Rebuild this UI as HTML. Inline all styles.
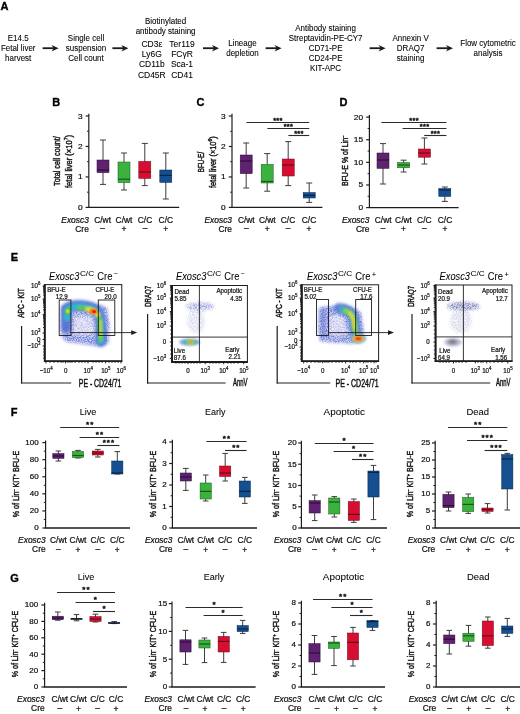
<!DOCTYPE html><html><head><meta charset="utf-8"><style>html,body{margin:0;padding:0;background:#fff;}svg{display:block;font-family:"Liberation Sans", sans-serif;}</style></head><body>
<svg width="520" height="714" viewBox="0 0 520 714">
<defs><filter id="b1" x="-30%" y="-30%" width="160%" height="160%"><feGaussianBlur stdDeviation="1"/></filter><filter id="b15" x="-30%" y="-30%" width="160%" height="160%"><feGaussianBlur stdDeviation="1.5"/></filter><filter id="b2" x="-30%" y="-30%" width="160%" height="160%"><feGaussianBlur stdDeviation="2"/></filter><filter id="b3" x="-30%" y="-30%" width="160%" height="160%"><feGaussianBlur stdDeviation="3"/></filter><filter id="b07" x="-30%" y="-30%" width="160%" height="160%"><feGaussianBlur stdDeviation="0.7"/></filter><filter id="sp" x="-30%" y="-30%" width="160%" height="160%"><feGaussianBlur in="SourceGraphic" stdDeviation="1.5" result="bl"/><feTurbulence type="fractalNoise" baseFrequency="0.8" numOctaves="2" seed="5" result="n"/><feColorMatrix in="n" type="matrix" values="0 0 0 0 0 0 0 0 0 0 0 0 0 0 0 0 0 0 3.2 -1.2" result="na"/><feComposite in="bl" in2="na" operator="in"/></filter></defs>
<rect width="520" height="714" fill="#fff"/>
<filter id="gb" x="0" y="0" width="520" height="714" filterUnits="userSpaceOnUse"><feGaussianBlur stdDeviation="0.4"/></filter>
<g filter="url(#gb)">
<text x="0.60" y="10.30" font-size="11.0" stroke="#000" stroke-width="0.35" font-weight="bold" fill="#000">A</text>
<text x="52.20" y="105.60" font-size="11.0" stroke="#000" stroke-width="0.35" font-weight="bold" fill="#000">B</text>
<text x="196.60" y="105.60" font-size="11.0" stroke="#000" stroke-width="0.35" font-weight="bold" fill="#000">C</text>
<text x="339.40" y="105.60" font-size="11.0" stroke="#000" stroke-width="0.35" font-weight="bold" fill="#000">D</text>
<text x="10.80" y="261.20" font-size="11.0" stroke="#000" stroke-width="0.35" font-weight="bold" fill="#000">E</text>
<text x="10.80" y="416.20" font-size="11.0" stroke="#000" stroke-width="0.35" font-weight="bold" fill="#000">F</text>
<text x="10.20" y="581.80" font-size="11.0" stroke="#000" stroke-width="0.35" font-weight="bold" fill="#000">G</text>
<text x="0" y="0" transform="translate(18.20,41.20) scale(1,1.1)" font-size="8.0" stroke="#1e1e1e" stroke-width="0.08" text-anchor="middle">E14.5</text>
<text x="0" y="0" transform="translate(18.20,51.20) scale(1,1.1)" font-size="8.0" stroke="#1e1e1e" stroke-width="0.08" text-anchor="middle">Fetal liver</text>
<text x="0" y="0" transform="translate(18.20,61.20) scale(1,1.1)" font-size="8.0" stroke="#1e1e1e" stroke-width="0.08" text-anchor="middle">harvest</text>
<text x="0" y="0" transform="translate(86.00,41.20) scale(1,1.1)" font-size="8.0" stroke="#1e1e1e" stroke-width="0.08" text-anchor="middle">Single cell</text>
<text x="0" y="0" transform="translate(86.00,51.20) scale(1,1.1)" font-size="8.0" stroke="#1e1e1e" stroke-width="0.08" text-anchor="middle">suspension</text>
<text x="0" y="0" transform="translate(86.00,61.20) scale(1,1.1)" font-size="8.0" stroke="#1e1e1e" stroke-width="0.08" text-anchor="middle">Cell count</text>
<text x="0" y="0" transform="translate(165.60,23.80) scale(1,1.1)" font-size="8.0" stroke="#1e1e1e" stroke-width="0.08" text-anchor="middle">Biotinylated</text>
<text x="0" y="0" transform="translate(165.60,34.00) scale(1,1.1)" font-size="8.0" stroke="#1e1e1e" stroke-width="0.08" text-anchor="middle">antibody staining</text>
<text x="0" y="0" transform="translate(151.80,47.20) scale(1,1.1)" font-size="8.5" stroke="#1e1e1e" stroke-width="0.08" text-anchor="middle">CD3ε</text>
<text x="0" y="0" transform="translate(151.80,57.40) scale(1,1.1)" font-size="8.5" stroke="#1e1e1e" stroke-width="0.08" text-anchor="middle">Ly6G</text>
<text x="0" y="0" transform="translate(151.80,67.40) scale(1,1.1)" font-size="8.5" stroke="#1e1e1e" stroke-width="0.08" text-anchor="middle">CD11b</text>
<text x="0" y="0" transform="translate(151.80,77.60) scale(1,1.1)" font-size="8.5" stroke="#1e1e1e" stroke-width="0.08" text-anchor="middle">CD45R</text>
<text x="0" y="0" transform="translate(182.00,47.20) scale(1,1.1)" font-size="8.5" stroke="#1e1e1e" stroke-width="0.08" text-anchor="middle">Ter119</text>
<text x="0" y="0" transform="translate(182.00,57.40) scale(1,1.1)" font-size="8.5" stroke="#1e1e1e" stroke-width="0.08" text-anchor="middle">FCγR</text>
<text x="0" y="0" transform="translate(182.00,67.40) scale(1,1.1)" font-size="8.5" stroke="#1e1e1e" stroke-width="0.08" text-anchor="middle">Sca-1</text>
<text x="0" y="0" transform="translate(182.00,77.60) scale(1,1.1)" font-size="8.5" stroke="#1e1e1e" stroke-width="0.08" text-anchor="middle">CD41</text>
<text x="0" y="0" transform="translate(242.40,45.80) scale(1,1.1)" font-size="8.0" stroke="#1e1e1e" stroke-width="0.08" text-anchor="middle">Lineage</text>
<text x="0" y="0" transform="translate(242.40,55.80) scale(1,1.1)" font-size="8.0" stroke="#1e1e1e" stroke-width="0.08" text-anchor="middle">depletion</text>
<text x="0" y="0" transform="translate(325.60,30.60) scale(1,1.1)" font-size="8.0" stroke="#1e1e1e" stroke-width="0.08" text-anchor="middle">Antibody staining</text>
<text x="0" y="0" transform="translate(325.60,40.80) scale(1,1.1)" font-size="8.0" stroke="#1e1e1e" stroke-width="0.08" text-anchor="middle">Streptavidin-PE-CY7</text>
<text x="0" y="0" transform="translate(325.60,50.80) scale(1,1.1)" font-size="8.0" stroke="#1e1e1e" stroke-width="0.08" text-anchor="middle">CD71-PE</text>
<text x="0" y="0" transform="translate(325.60,60.80) scale(1,1.1)" font-size="8.0" stroke="#1e1e1e" stroke-width="0.08" text-anchor="middle">CD24-PE</text>
<text x="0" y="0" transform="translate(325.60,70.80) scale(1,1.1)" font-size="8.0" stroke="#1e1e1e" stroke-width="0.08" text-anchor="middle">KIT-APC</text>
<text x="0" y="0" transform="translate(410.60,40.80) scale(1,1.1)" font-size="8.0" stroke="#1e1e1e" stroke-width="0.08" text-anchor="middle">Annexin V</text>
<text x="0" y="0" transform="translate(410.60,50.80) scale(1,1.1)" font-size="8.0" stroke="#1e1e1e" stroke-width="0.08" text-anchor="middle">DRAQ7</text>
<text x="0" y="0" transform="translate(410.60,60.80) scale(1,1.1)" font-size="8.0" stroke="#1e1e1e" stroke-width="0.08" text-anchor="middle">staining</text>
<text x="0" y="0" transform="translate(488.00,45.80) scale(1,1.1)" font-size="8.0" stroke="#1e1e1e" stroke-width="0.08" text-anchor="middle">Flow cytometric</text>
<text x="0" y="0" transform="translate(488.00,55.80) scale(1,1.1)" font-size="8.0" stroke="#1e1e1e" stroke-width="0.08" text-anchor="middle">analysis</text>
<line x1="42.60" y1="48.20" x2="54.10" y2="48.20" stroke="#1e1e1e" stroke-width="1.8"/>
<path d="M58.60,48.20 L51.60,44.90 L53.60,48.20 L51.60,51.50 Z" fill="#1e1e1e"/>
<line x1="112.40" y1="48.20" x2="123.90" y2="48.20" stroke="#1e1e1e" stroke-width="1.8"/>
<path d="M128.40,48.20 L121.40,44.90 L123.40,48.20 L121.40,51.50 Z" fill="#1e1e1e"/>
<line x1="203.00" y1="48.20" x2="214.50" y2="48.20" stroke="#1e1e1e" stroke-width="1.8"/>
<path d="M219.00,48.20 L212.00,44.90 L214.00,48.20 L212.00,51.50 Z" fill="#1e1e1e"/>
<line x1="265.60" y1="48.20" x2="277.10" y2="48.20" stroke="#1e1e1e" stroke-width="1.8"/>
<path d="M281.60,48.20 L274.60,44.90 L276.60,48.20 L274.60,51.50 Z" fill="#1e1e1e"/>
<line x1="369.60" y1="48.20" x2="381.10" y2="48.20" stroke="#1e1e1e" stroke-width="1.8"/>
<path d="M385.60,48.20 L378.60,44.90 L380.60,48.20 L378.60,51.50 Z" fill="#1e1e1e"/>
<line x1="436.60" y1="48.20" x2="448.50" y2="48.20" stroke="#1e1e1e" stroke-width="1.8"/>
<path d="M453.00,48.20 L446.00,44.90 L448.00,48.20 L446.00,51.50 Z" fill="#1e1e1e"/>
<line x1="88.80" y1="113.79" x2="88.80" y2="207.40" stroke="#1e1e1e" stroke-width="1.2"/>
<line x1="85.60" y1="207.40" x2="88.80" y2="207.40" stroke="#1e1e1e" stroke-width="1.2"/>
<text x="0" y="0" transform="translate(82.80,209.91) scale(1,0.83)" font-size="8.4" stroke="#1e1e1e" stroke-width="0.22" text-anchor="end">0</text>
<line x1="85.60" y1="176.93" x2="88.80" y2="176.93" stroke="#1e1e1e" stroke-width="1.2"/>
<text x="0" y="0" transform="translate(82.80,179.44) scale(1,0.83)" font-size="8.4" stroke="#1e1e1e" stroke-width="0.22" text-anchor="end">1</text>
<line x1="85.60" y1="146.46" x2="88.80" y2="146.46" stroke="#1e1e1e" stroke-width="1.2"/>
<text x="0" y="0" transform="translate(82.80,148.97) scale(1,0.83)" font-size="8.4" stroke="#1e1e1e" stroke-width="0.22" text-anchor="end">2</text>
<line x1="85.60" y1="115.99" x2="88.80" y2="115.99" stroke="#1e1e1e" stroke-width="1.2"/>
<text x="0" y="0" transform="translate(82.80,118.50) scale(1,0.83)" font-size="8.4" stroke="#1e1e1e" stroke-width="0.22" text-anchor="end">3</text>
<line x1="87.00" y1="192.17" x2="88.80" y2="192.17" stroke="#1e1e1e" stroke-width="1.0"/>
<line x1="87.00" y1="161.69" x2="88.80" y2="161.69" stroke="#1e1e1e" stroke-width="1.0"/>
<line x1="87.00" y1="131.23" x2="88.80" y2="131.23" stroke="#1e1e1e" stroke-width="1.0"/>
<line x1="88.20" y1="207.40" x2="179.20" y2="207.40" stroke="#1e1e1e" stroke-width="1.3"/>
<line x1="103.00" y1="140.00" x2="103.00" y2="184.40" stroke="#3c3c3c" stroke-width="1.0"/>
<line x1="100.00" y1="140.00" x2="106.00" y2="140.00" stroke="#3c3c3c" stroke-width="1.0"/>
<line x1="100.00" y1="184.40" x2="106.00" y2="184.40" stroke="#3c3c3c" stroke-width="1.0"/>
<rect x="97.00" y="160.00" width="12.00" height="12.60" fill="#5e2170" stroke="#2e0b3a" stroke-width="0.5"/>
<line x1="97.00" y1="170.00" x2="109.00" y2="170.00" stroke="#2e0b3a" stroke-width="1.2"/>
<line x1="124.00" y1="153.00" x2="124.00" y2="190.00" stroke="#3c3c3c" stroke-width="1.0"/>
<line x1="121.00" y1="153.00" x2="127.00" y2="153.00" stroke="#3c3c3c" stroke-width="1.0"/>
<line x1="121.00" y1="190.00" x2="127.00" y2="190.00" stroke="#3c3c3c" stroke-width="1.0"/>
<rect x="118.00" y="162.00" width="12.00" height="20.60" fill="#3bb23e" stroke="#145a18" stroke-width="0.5"/>
<line x1="118.00" y1="179.20" x2="130.00" y2="179.20" stroke="#145a18" stroke-width="1.2"/>
<line x1="144.80" y1="143.40" x2="144.80" y2="185.60" stroke="#3c3c3c" stroke-width="1.0"/>
<line x1="141.80" y1="143.40" x2="147.80" y2="143.40" stroke="#3c3c3c" stroke-width="1.0"/>
<line x1="141.80" y1="185.60" x2="147.80" y2="185.60" stroke="#3c3c3c" stroke-width="1.0"/>
<rect x="138.80" y="161.40" width="12.00" height="17.00" fill="#d80f30" stroke="#6a0616" stroke-width="0.5"/>
<line x1="138.80" y1="172.00" x2="150.80" y2="172.00" stroke="#6a0616" stroke-width="1.2"/>
<line x1="165.80" y1="153.00" x2="165.80" y2="199.00" stroke="#3c3c3c" stroke-width="1.0"/>
<line x1="162.80" y1="153.00" x2="168.80" y2="153.00" stroke="#3c3c3c" stroke-width="1.0"/>
<line x1="162.80" y1="199.00" x2="168.80" y2="199.00" stroke="#3c3c3c" stroke-width="1.0"/>
<rect x="159.80" y="170.00" width="12.00" height="12.40" fill="#134f8f" stroke="#06264a" stroke-width="0.5"/>
<line x1="159.80" y1="175.40" x2="171.80" y2="175.40" stroke="#06264a" stroke-width="1.2"/>
<text x="0" y="0" font-size="9.4" text-anchor="middle" transform="translate(59.60,161.10) rotate(-90)" stroke="#1e1e1e" stroke-width="0.45" textLength="49.6" lengthAdjust="spacingAndGlyphs">Total cell count/</text>
<text x="0" y="0" font-size="9.4" text-anchor="middle" transform="translate(71.60,161.50) rotate(-90)" stroke="#1e1e1e" stroke-width="0.45" textLength="53" lengthAdjust="spacingAndGlyphs">fetal liver (×10<tspan font-size="6.2" dy="-3.4">7</tspan><tspan dy="3.4">)</tspan></text>
<text x="0" y="0" transform="translate(88.80,222.60) scale(1,0.98)" font-size="8.4" stroke="#1e1e1e" stroke-width="0.22" text-anchor="end" font-style="italic">Exosc3</text>
<text x="0" y="0" transform="translate(88.80,231.80) scale(1,0.98)" font-size="8.4" stroke="#1e1e1e" stroke-width="0.22" text-anchor="end">Cre</text>
<text x="0" y="0" transform="translate(102.60,222.60) scale(1,0.98)" font-size="8.4" stroke="#1e1e1e" stroke-width="0.22" text-anchor="middle">C/wt</text>
<text x="0" y="0" transform="translate(102.60,231.40) scale(1,0.98)" font-size="8.4" stroke="#1e1e1e" stroke-width="0.22" text-anchor="middle">–</text>
<text x="0" y="0" transform="translate(124.00,222.60) scale(1,0.98)" font-size="8.4" stroke="#1e1e1e" stroke-width="0.22" text-anchor="middle">C/wt</text>
<text x="0" y="0" transform="translate(124.00,232.20) scale(1,0.98)" font-size="8.4" stroke="#1e1e1e" stroke-width="0.22" text-anchor="middle">+</text>
<text x="0" y="0" transform="translate(145.00,222.60) scale(1,0.98)" font-size="8.4" stroke="#1e1e1e" stroke-width="0.22" text-anchor="middle">C/C</text>
<text x="0" y="0" transform="translate(145.00,231.40) scale(1,0.98)" font-size="8.4" stroke="#1e1e1e" stroke-width="0.22" text-anchor="middle">–</text>
<text x="0" y="0" transform="translate(165.80,222.60) scale(1,0.98)" font-size="8.4" stroke="#1e1e1e" stroke-width="0.22" text-anchor="middle">C/C</text>
<text x="0" y="0" transform="translate(165.80,232.20) scale(1,0.98)" font-size="8.4" stroke="#1e1e1e" stroke-width="0.22" text-anchor="middle">+</text>
<line x1="232.00" y1="113.85" x2="232.00" y2="207.40" stroke="#1e1e1e" stroke-width="1.2"/>
<line x1="228.80" y1="207.40" x2="232.00" y2="207.40" stroke="#1e1e1e" stroke-width="1.2"/>
<text x="0" y="0" transform="translate(225.80,209.91) scale(1,0.83)" font-size="8.4" stroke="#1e1e1e" stroke-width="0.22" text-anchor="end">0</text>
<line x1="228.80" y1="176.95" x2="232.00" y2="176.95" stroke="#1e1e1e" stroke-width="1.2"/>
<text x="0" y="0" transform="translate(225.80,179.46) scale(1,0.83)" font-size="8.4" stroke="#1e1e1e" stroke-width="0.22" text-anchor="end">1</text>
<line x1="228.80" y1="146.50" x2="232.00" y2="146.50" stroke="#1e1e1e" stroke-width="1.2"/>
<text x="0" y="0" transform="translate(225.80,149.01) scale(1,0.83)" font-size="8.4" stroke="#1e1e1e" stroke-width="0.22" text-anchor="end">2</text>
<line x1="228.80" y1="116.05" x2="232.00" y2="116.05" stroke="#1e1e1e" stroke-width="1.2"/>
<text x="0" y="0" transform="translate(225.80,118.56) scale(1,0.83)" font-size="8.4" stroke="#1e1e1e" stroke-width="0.22" text-anchor="end">3</text>
<line x1="230.20" y1="192.18" x2="232.00" y2="192.18" stroke="#1e1e1e" stroke-width="1.0"/>
<line x1="230.20" y1="161.73" x2="232.00" y2="161.73" stroke="#1e1e1e" stroke-width="1.0"/>
<line x1="230.20" y1="131.28" x2="232.00" y2="131.28" stroke="#1e1e1e" stroke-width="1.0"/>
<line x1="231.40" y1="207.40" x2="322.40" y2="207.40" stroke="#1e1e1e" stroke-width="1.3"/>
<line x1="246.20" y1="143.00" x2="246.20" y2="188.00" stroke="#3c3c3c" stroke-width="1.0"/>
<line x1="243.20" y1="143.00" x2="249.20" y2="143.00" stroke="#3c3c3c" stroke-width="1.0"/>
<line x1="243.20" y1="188.00" x2="249.20" y2="188.00" stroke="#3c3c3c" stroke-width="1.0"/>
<rect x="240.20" y="155.00" width="12.00" height="18.60" fill="#5e2170" stroke="#2e0b3a" stroke-width="0.5"/>
<line x1="240.20" y1="161.00" x2="252.20" y2="161.00" stroke="#2e0b3a" stroke-width="1.2"/>
<line x1="267.20" y1="153.60" x2="267.20" y2="191.20" stroke="#3c3c3c" stroke-width="1.0"/>
<line x1="264.20" y1="153.60" x2="270.20" y2="153.60" stroke="#3c3c3c" stroke-width="1.0"/>
<line x1="264.20" y1="191.20" x2="270.20" y2="191.20" stroke="#3c3c3c" stroke-width="1.0"/>
<rect x="261.20" y="164.40" width="12.00" height="18.60" fill="#3bb23e" stroke="#145a18" stroke-width="0.5"/>
<line x1="261.20" y1="181.50" x2="273.20" y2="181.50" stroke="#145a18" stroke-width="1.2"/>
<line x1="288.20" y1="141.60" x2="288.20" y2="185.60" stroke="#3c3c3c" stroke-width="1.0"/>
<line x1="285.20" y1="141.60" x2="291.20" y2="141.60" stroke="#3c3c3c" stroke-width="1.0"/>
<line x1="285.20" y1="185.60" x2="291.20" y2="185.60" stroke="#3c3c3c" stroke-width="1.0"/>
<rect x="282.20" y="159.00" width="12.00" height="17.00" fill="#d80f30" stroke="#6a0616" stroke-width="0.5"/>
<line x1="282.20" y1="165.00" x2="294.20" y2="165.00" stroke="#6a0616" stroke-width="1.2"/>
<line x1="309.20" y1="183.00" x2="309.20" y2="202.40" stroke="#3c3c3c" stroke-width="1.0"/>
<line x1="306.20" y1="183.00" x2="312.20" y2="183.00" stroke="#3c3c3c" stroke-width="1.0"/>
<line x1="306.20" y1="202.40" x2="312.20" y2="202.40" stroke="#3c3c3c" stroke-width="1.0"/>
<rect x="303.20" y="192.60" width="12.00" height="5.40" fill="#134f8f" stroke="#06264a" stroke-width="0.5"/>
<line x1="303.20" y1="195.40" x2="315.20" y2="195.40" stroke="#06264a" stroke-width="1.2"/>
<line x1="246.40" y1="122.50" x2="309.20" y2="122.50" stroke="#2a2a2a" stroke-width="1.1"/>
<text x="274.62" y="123.43" font-size="7.4" stroke="#1e1e1e" stroke-width="0.55" text-anchor="middle">*</text>
<text x="277.80" y="123.43" font-size="7.4" stroke="#1e1e1e" stroke-width="0.55" text-anchor="middle">*</text>
<text x="280.98" y="123.43" font-size="7.4" stroke="#1e1e1e" stroke-width="0.55" text-anchor="middle">*</text>
<line x1="267.40" y1="128.50" x2="309.20" y2="128.50" stroke="#2a2a2a" stroke-width="1.1"/>
<text x="285.12" y="129.43" font-size="7.4" stroke="#1e1e1e" stroke-width="0.55" text-anchor="middle">*</text>
<text x="288.30" y="129.43" font-size="7.4" stroke="#1e1e1e" stroke-width="0.55" text-anchor="middle">*</text>
<text x="291.48" y="129.43" font-size="7.4" stroke="#1e1e1e" stroke-width="0.55" text-anchor="middle">*</text>
<line x1="288.40" y1="135.50" x2="309.20" y2="135.50" stroke="#2a2a2a" stroke-width="1.1"/>
<text x="295.62" y="136.43" font-size="7.4" stroke="#1e1e1e" stroke-width="0.55" text-anchor="middle">*</text>
<text x="298.80" y="136.43" font-size="7.4" stroke="#1e1e1e" stroke-width="0.55" text-anchor="middle">*</text>
<text x="301.98" y="136.43" font-size="7.4" stroke="#1e1e1e" stroke-width="0.55" text-anchor="middle">*</text>
<text x="0" y="0" font-size="9.4" text-anchor="middle" transform="translate(204.00,162.00) rotate(-90)" stroke="#1e1e1e" stroke-width="0.45" textLength="20.6" lengthAdjust="spacingAndGlyphs">BFU-E/</text>
<text x="0" y="0" font-size="9.4" text-anchor="middle" transform="translate(215.80,162.20) rotate(-90)" stroke="#1e1e1e" stroke-width="0.45" textLength="51.7" lengthAdjust="spacingAndGlyphs">fetal liver (×10<tspan font-size="6.2" dy="-3.4">6</tspan><tspan dy="3.4">)</tspan></text>
<text x="0" y="0" transform="translate(232.00,222.60) scale(1,0.98)" font-size="8.4" stroke="#1e1e1e" stroke-width="0.22" text-anchor="end" font-style="italic">Exosc3</text>
<text x="0" y="0" transform="translate(232.00,231.80) scale(1,0.98)" font-size="8.4" stroke="#1e1e1e" stroke-width="0.22" text-anchor="end">Cre</text>
<text x="0" y="0" transform="translate(246.30,222.60) scale(1,0.98)" font-size="8.4" stroke="#1e1e1e" stroke-width="0.22" text-anchor="middle">C/wt</text>
<text x="0" y="0" transform="translate(246.30,231.40) scale(1,0.98)" font-size="8.4" stroke="#1e1e1e" stroke-width="0.22" text-anchor="middle">–</text>
<text x="0" y="0" transform="translate(267.30,222.60) scale(1,0.98)" font-size="8.4" stroke="#1e1e1e" stroke-width="0.22" text-anchor="middle">C/wt</text>
<text x="0" y="0" transform="translate(267.30,232.20) scale(1,0.98)" font-size="8.4" stroke="#1e1e1e" stroke-width="0.22" text-anchor="middle">+</text>
<text x="0" y="0" transform="translate(288.00,222.60) scale(1,0.98)" font-size="8.4" stroke="#1e1e1e" stroke-width="0.22" text-anchor="middle">C/C</text>
<text x="0" y="0" transform="translate(288.00,231.40) scale(1,0.98)" font-size="8.4" stroke="#1e1e1e" stroke-width="0.22" text-anchor="middle">–</text>
<text x="0" y="0" transform="translate(309.00,222.60) scale(1,0.98)" font-size="8.4" stroke="#1e1e1e" stroke-width="0.22" text-anchor="middle">C/C</text>
<text x="0" y="0" transform="translate(309.00,232.20) scale(1,0.98)" font-size="8.4" stroke="#1e1e1e" stroke-width="0.22" text-anchor="middle">+</text>
<line x1="369.40" y1="114.92" x2="369.40" y2="207.60" stroke="#1e1e1e" stroke-width="1.2"/>
<line x1="366.20" y1="207.60" x2="369.40" y2="207.60" stroke="#1e1e1e" stroke-width="1.2"/>
<text x="0" y="0" transform="translate(363.20,210.11) scale(1,0.83)" font-size="8.4" stroke="#1e1e1e" stroke-width="0.22" text-anchor="end">0</text>
<line x1="366.20" y1="184.98" x2="369.40" y2="184.98" stroke="#1e1e1e" stroke-width="1.2"/>
<text x="0" y="0" transform="translate(363.20,187.49) scale(1,0.83)" font-size="8.4" stroke="#1e1e1e" stroke-width="0.22" text-anchor="end">5</text>
<line x1="366.20" y1="162.36" x2="369.40" y2="162.36" stroke="#1e1e1e" stroke-width="1.2"/>
<text x="0" y="0" transform="translate(363.20,164.87) scale(1,0.83)" font-size="8.4" stroke="#1e1e1e" stroke-width="0.22" text-anchor="end">10</text>
<line x1="366.20" y1="139.74" x2="369.40" y2="139.74" stroke="#1e1e1e" stroke-width="1.2"/>
<text x="0" y="0" transform="translate(363.20,142.25) scale(1,0.83)" font-size="8.4" stroke="#1e1e1e" stroke-width="0.22" text-anchor="end">15</text>
<line x1="366.20" y1="117.12" x2="369.40" y2="117.12" stroke="#1e1e1e" stroke-width="1.2"/>
<text x="0" y="0" transform="translate(363.20,119.63) scale(1,0.83)" font-size="8.4" stroke="#1e1e1e" stroke-width="0.22" text-anchor="end">20</text>
<line x1="367.60" y1="196.29" x2="369.40" y2="196.29" stroke="#1e1e1e" stroke-width="1.0"/>
<line x1="367.60" y1="173.67" x2="369.40" y2="173.67" stroke="#1e1e1e" stroke-width="1.0"/>
<line x1="367.60" y1="151.05" x2="369.40" y2="151.05" stroke="#1e1e1e" stroke-width="1.0"/>
<line x1="367.60" y1="128.43" x2="369.40" y2="128.43" stroke="#1e1e1e" stroke-width="1.0"/>
<line x1="368.80" y1="207.60" x2="458.60" y2="207.60" stroke="#1e1e1e" stroke-width="1.3"/>
<line x1="383.00" y1="143.60" x2="383.00" y2="184.00" stroke="#3c3c3c" stroke-width="1.0"/>
<line x1="380.00" y1="143.60" x2="386.00" y2="143.60" stroke="#3c3c3c" stroke-width="1.0"/>
<line x1="380.00" y1="184.00" x2="386.00" y2="184.00" stroke="#3c3c3c" stroke-width="1.0"/>
<rect x="377.00" y="153.00" width="12.00" height="15.40" fill="#5e2170" stroke="#2e0b3a" stroke-width="0.5"/>
<line x1="377.00" y1="160.00" x2="389.00" y2="160.00" stroke="#2e0b3a" stroke-width="1.2"/>
<line x1="403.60" y1="160.20" x2="403.60" y2="172.00" stroke="#3c3c3c" stroke-width="1.0"/>
<line x1="400.60" y1="160.20" x2="406.60" y2="160.20" stroke="#3c3c3c" stroke-width="1.0"/>
<line x1="400.60" y1="172.00" x2="406.60" y2="172.00" stroke="#3c3c3c" stroke-width="1.0"/>
<rect x="397.60" y="162.50" width="12.00" height="5.30" fill="#3bb23e" stroke="#145a18" stroke-width="0.5"/>
<line x1="397.60" y1="165.00" x2="409.60" y2="165.00" stroke="#145a18" stroke-width="1.2"/>
<line x1="424.40" y1="138.00" x2="424.40" y2="164.00" stroke="#3c3c3c" stroke-width="1.0"/>
<line x1="421.40" y1="138.00" x2="427.40" y2="138.00" stroke="#3c3c3c" stroke-width="1.0"/>
<line x1="421.40" y1="164.00" x2="427.40" y2="164.00" stroke="#3c3c3c" stroke-width="1.0"/>
<rect x="418.40" y="149.00" width="12.00" height="8.20" fill="#d80f30" stroke="#6a0616" stroke-width="0.5"/>
<line x1="418.40" y1="153.00" x2="430.40" y2="153.00" stroke="#6a0616" stroke-width="1.2"/>
<line x1="444.80" y1="187.00" x2="444.80" y2="201.40" stroke="#3c3c3c" stroke-width="1.0"/>
<line x1="441.80" y1="187.00" x2="447.80" y2="187.00" stroke="#3c3c3c" stroke-width="1.0"/>
<line x1="441.80" y1="201.40" x2="447.80" y2="201.40" stroke="#3c3c3c" stroke-width="1.0"/>
<rect x="438.80" y="188.60" width="12.00" height="7.80" fill="#134f8f" stroke="#06264a" stroke-width="0.5"/>
<line x1="438.80" y1="190.00" x2="450.80" y2="190.00" stroke="#06264a" stroke-width="1.2"/>
<line x1="381.40" y1="122.50" x2="446.40" y2="122.50" stroke="#2a2a2a" stroke-width="1.1"/>
<text x="410.72" y="123.43" font-size="7.4" stroke="#1e1e1e" stroke-width="0.55" text-anchor="middle">*</text>
<text x="413.90" y="123.43" font-size="7.4" stroke="#1e1e1e" stroke-width="0.55" text-anchor="middle">*</text>
<text x="417.08" y="123.43" font-size="7.4" stroke="#1e1e1e" stroke-width="0.55" text-anchor="middle">*</text>
<line x1="402.60" y1="128.50" x2="446.40" y2="128.50" stroke="#2a2a2a" stroke-width="1.1"/>
<text x="421.32" y="129.43" font-size="7.4" stroke="#1e1e1e" stroke-width="0.55" text-anchor="middle">*</text>
<text x="424.50" y="129.43" font-size="7.4" stroke="#1e1e1e" stroke-width="0.55" text-anchor="middle">*</text>
<text x="427.68" y="129.43" font-size="7.4" stroke="#1e1e1e" stroke-width="0.55" text-anchor="middle">*</text>
<line x1="424.20" y1="135.50" x2="446.40" y2="135.50" stroke="#2a2a2a" stroke-width="1.1"/>
<text x="432.12" y="136.43" font-size="7.4" stroke="#1e1e1e" stroke-width="0.55" text-anchor="middle">*</text>
<text x="435.30" y="136.43" font-size="7.4" stroke="#1e1e1e" stroke-width="0.55" text-anchor="middle">*</text>
<text x="438.48" y="136.43" font-size="7.4" stroke="#1e1e1e" stroke-width="0.55" text-anchor="middle">*</text>
<text x="0" y="0" font-size="9.4" text-anchor="middle" transform="translate(347.60,160.90) rotate(-90)" stroke="#1e1e1e" stroke-width="0.45" textLength="50.4" lengthAdjust="spacingAndGlyphs">BFU-E % of Lin<tspan font-size="5" dy="-3">–</tspan></text>
<text x="0" y="0" transform="translate(369.40,222.60) scale(1,0.98)" font-size="8.4" stroke="#1e1e1e" stroke-width="0.22" text-anchor="end" font-style="italic">Exosc3</text>
<text x="0" y="0" transform="translate(369.40,231.80) scale(1,0.98)" font-size="8.4" stroke="#1e1e1e" stroke-width="0.22" text-anchor="end">Cre</text>
<text x="0" y="0" transform="translate(383.20,222.60) scale(1,0.98)" font-size="8.4" stroke="#1e1e1e" stroke-width="0.22" text-anchor="middle">C/wt</text>
<text x="0" y="0" transform="translate(383.20,231.40) scale(1,0.98)" font-size="8.4" stroke="#1e1e1e" stroke-width="0.22" text-anchor="middle">–</text>
<text x="0" y="0" transform="translate(403.50,222.60) scale(1,0.98)" font-size="8.4" stroke="#1e1e1e" stroke-width="0.22" text-anchor="middle">C/wt</text>
<text x="0" y="0" transform="translate(403.50,232.20) scale(1,0.98)" font-size="8.4" stroke="#1e1e1e" stroke-width="0.22" text-anchor="middle">+</text>
<text x="0" y="0" transform="translate(424.30,222.60) scale(1,0.98)" font-size="8.4" stroke="#1e1e1e" stroke-width="0.22" text-anchor="middle">C/C</text>
<text x="0" y="0" transform="translate(424.30,231.40) scale(1,0.98)" font-size="8.4" stroke="#1e1e1e" stroke-width="0.22" text-anchor="middle">–</text>
<text x="0" y="0" transform="translate(445.00,222.60) scale(1,0.98)" font-size="8.4" stroke="#1e1e1e" stroke-width="0.22" text-anchor="middle">C/C</text>
<text x="0" y="0" transform="translate(445.00,232.20) scale(1,0.98)" font-size="8.4" stroke="#1e1e1e" stroke-width="0.22" text-anchor="middle">+</text>
<g id="panelE">
<g>
<g filter="url(#b15)"><path d="M62,306 Q70,302.5 84,303 Q100,303.5 107,308 L109.5,326 L108.5,344 L96,346.5 L80,344 L66,342 L61,336 Z" fill="#b8c0ee" fill-opacity="0.85"/><path d="M74,318 Q84,314 93,320 L95,333 L84,335 L73,333 Z" fill="#e4e0f6"/></g>
<g filter="url(#sp)"><path d="M62,306 Q70,302.5 84,303 Q100,303.5 107,308 L109.5,326 L108.5,343 L96,345 L80,343 L66,341 L61,336 Z" fill="#4a60cc" fill-opacity="0.75"/></g>
<g filter="url(#b15)"><path d="M74,317 Q84,313 93,319 L95,333 L84,336 L73,334 Z" fill="#f2f0fa" fill-opacity="0.6"/></g>
<g filter="url(#b15)" fill="none" stroke-linecap="round"><path d="M66,328 L66,309 Q70,304.5 80,305 Q92,305.5 97.5,311 Q101,317 101,329 L101,342" stroke="#5570d4" stroke-width="10" stroke-opacity="0.9"/></g>
<g filter="url(#b1)" fill="none" stroke-linecap="round"><path d="M67,318 L67,310 Q72,306 80,306.5 Q91,307 96.5,311.5 Q100.6,317 100.8,329 L100.8,341" stroke="#30b4d0" stroke-width="6.5"/><path d="M79,308 Q90,307.6 96,311.6 Q100.4,317 100.6,328 L100.6,340" stroke="#62c650" stroke-width="4.6"/><path d="M87.5,309.5 Q93.5,310 97.6,314.6" stroke="#e8dc30" stroke-width="4.6"/><path d="M100.6,321 L100.6,336" stroke="#b8d838" stroke-width="2.6"/></g>
<g filter="url(#b07)"><ellipse cx="67.6" cy="311.2" rx="2.8" ry="3.4" fill="#60c050"/><ellipse cx="67.8" cy="311.2" rx="1.7" ry="2.0" fill="#c8d830"/><ellipse cx="93.4" cy="311.5" rx="4.0" ry="3.2" fill="#f08a20"/><ellipse cx="94.0" cy="311.5" rx="2.0" ry="1.6" fill="#e0200c"/></g>
<rect x="59.2" y="300.0" width="11.7" height="35.5" fill="none" stroke="#1e1e1e" stroke-width="0.9"/>
<rect x="98.3" y="300.0" width="16.5" height="35.5" fill="none" stroke="#1e1e1e" stroke-width="0.9"/>
<text x="0" y="0" transform="translate(47.20,292.40) scale(1,1.2)" font-size="6.2" stroke="#1e1e1e" stroke-width="0.2">BFU-E</text>
<text x="0" y="0" transform="translate(67.80,299.00) scale(1,1.2)" font-size="6.2" stroke="#1e1e1e" stroke-width="0.2" text-anchor="end">12.9</text>
<text x="0" y="0" transform="translate(95.60,292.40) scale(1,1.2)" font-size="6.2" stroke="#1e1e1e" stroke-width="0.2">CFU-E</text>
<text x="0" y="0" transform="translate(116.60,299.00) scale(1,1.2)" font-size="6.2" stroke="#1e1e1e" stroke-width="0.2" text-anchor="end">20.0</text>
<line x1="42.60" y1="286.00" x2="44.80" y2="286.00" stroke="#1e1e1e" stroke-width="1.0"/>
<line x1="42.60" y1="299.00" x2="44.80" y2="299.00" stroke="#1e1e1e" stroke-width="1.0"/>
<line x1="42.60" y1="314.60" x2="44.80" y2="314.60" stroke="#1e1e1e" stroke-width="1.0"/>
<line x1="42.60" y1="333.00" x2="44.80" y2="333.00" stroke="#1e1e1e" stroke-width="1.0"/>
<line x1="42.60" y1="339.50" x2="44.80" y2="339.50" stroke="#1e1e1e" stroke-width="1.0"/>
<line x1="42.60" y1="346.00" x2="44.80" y2="346.00" stroke="#1e1e1e" stroke-width="1.0"/>
<line x1="43.00" y1="295.09" x2="44.80" y2="295.09" stroke="#1e1e1e" stroke-width="0.9"/>
<line x1="43.00" y1="292.80" x2="44.80" y2="292.80" stroke="#1e1e1e" stroke-width="0.9"/>
<line x1="43.00" y1="291.17" x2="44.80" y2="291.17" stroke="#1e1e1e" stroke-width="0.9"/>
<line x1="43.00" y1="289.91" x2="44.80" y2="289.91" stroke="#1e1e1e" stroke-width="0.9"/>
<line x1="43.00" y1="288.88" x2="44.80" y2="288.88" stroke="#1e1e1e" stroke-width="0.9"/>
<line x1="43.00" y1="288.01" x2="44.80" y2="288.01" stroke="#1e1e1e" stroke-width="0.9"/>
<line x1="43.00" y1="287.26" x2="44.80" y2="287.26" stroke="#1e1e1e" stroke-width="0.9"/>
<line x1="43.00" y1="286.59" x2="44.80" y2="286.59" stroke="#1e1e1e" stroke-width="0.9"/>
<line x1="43.00" y1="309.90" x2="44.80" y2="309.90" stroke="#1e1e1e" stroke-width="0.9"/>
<line x1="43.00" y1="307.16" x2="44.80" y2="307.16" stroke="#1e1e1e" stroke-width="0.9"/>
<line x1="43.00" y1="305.21" x2="44.80" y2="305.21" stroke="#1e1e1e" stroke-width="0.9"/>
<line x1="43.00" y1="303.70" x2="44.80" y2="303.70" stroke="#1e1e1e" stroke-width="0.9"/>
<line x1="43.00" y1="302.46" x2="44.80" y2="302.46" stroke="#1e1e1e" stroke-width="0.9"/>
<line x1="43.00" y1="301.42" x2="44.80" y2="301.42" stroke="#1e1e1e" stroke-width="0.9"/>
<line x1="43.00" y1="300.51" x2="44.80" y2="300.51" stroke="#1e1e1e" stroke-width="0.9"/>
<line x1="43.00" y1="299.71" x2="44.80" y2="299.71" stroke="#1e1e1e" stroke-width="0.9"/>
<line x1="43.00" y1="327.46" x2="44.80" y2="327.46" stroke="#1e1e1e" stroke-width="0.9"/>
<line x1="43.00" y1="324.22" x2="44.80" y2="324.22" stroke="#1e1e1e" stroke-width="0.9"/>
<line x1="43.00" y1="321.92" x2="44.80" y2="321.92" stroke="#1e1e1e" stroke-width="0.9"/>
<line x1="43.00" y1="320.14" x2="44.80" y2="320.14" stroke="#1e1e1e" stroke-width="0.9"/>
<line x1="43.00" y1="318.68" x2="44.80" y2="318.68" stroke="#1e1e1e" stroke-width="0.9"/>
<line x1="43.00" y1="317.45" x2="44.80" y2="317.45" stroke="#1e1e1e" stroke-width="0.9"/>
<line x1="43.00" y1="316.38" x2="44.80" y2="316.38" stroke="#1e1e1e" stroke-width="0.9"/>
<line x1="43.00" y1="315.44" x2="44.80" y2="315.44" stroke="#1e1e1e" stroke-width="0.9"/>
<line x1="43.00" y1="349.00" x2="44.80" y2="349.00" stroke="#1e1e1e" stroke-width="0.9"/>
<line x1="43.00" y1="352.00" x2="44.80" y2="352.00" stroke="#1e1e1e" stroke-width="0.9"/>
<line x1="43.00" y1="355.00" x2="44.80" y2="355.00" stroke="#1e1e1e" stroke-width="0.9"/>
<line x1="43.00" y1="358.00" x2="44.80" y2="358.00" stroke="#1e1e1e" stroke-width="0.9"/>
<line x1="46.00" y1="361.20" x2="46.00" y2="363.40" stroke="#1e1e1e" stroke-width="1.0"/>
<line x1="65.60" y1="361.20" x2="65.60" y2="363.40" stroke="#1e1e1e" stroke-width="1.0"/>
<line x1="88.00" y1="361.20" x2="88.00" y2="363.40" stroke="#1e1e1e" stroke-width="1.0"/>
<line x1="105.60" y1="361.20" x2="105.60" y2="363.40" stroke="#1e1e1e" stroke-width="1.0"/>
<line x1="121.00" y1="361.20" x2="121.00" y2="363.40" stroke="#1e1e1e" stroke-width="1.0"/>
<line x1="50.00" y1="361.20" x2="50.00" y2="363.00" stroke="#1e1e1e" stroke-width="0.8"/>
<line x1="54.00" y1="361.20" x2="54.00" y2="363.00" stroke="#1e1e1e" stroke-width="0.8"/>
<line x1="58.00" y1="361.20" x2="58.00" y2="363.00" stroke="#1e1e1e" stroke-width="0.8"/>
<line x1="61.00" y1="361.20" x2="61.00" y2="363.00" stroke="#1e1e1e" stroke-width="0.8"/>
<line x1="63.00" y1="361.20" x2="63.00" y2="363.00" stroke="#1e1e1e" stroke-width="0.8"/>
<line x1="68.00" y1="361.20" x2="68.00" y2="363.00" stroke="#1e1e1e" stroke-width="0.8"/>
<line x1="70.00" y1="361.20" x2="70.00" y2="363.00" stroke="#1e1e1e" stroke-width="0.8"/>
<line x1="72.00" y1="361.20" x2="72.00" y2="363.00" stroke="#1e1e1e" stroke-width="0.8"/>
<line x1="75.00" y1="361.20" x2="75.00" y2="363.00" stroke="#1e1e1e" stroke-width="0.8"/>
<line x1="79.00" y1="361.20" x2="79.00" y2="363.00" stroke="#1e1e1e" stroke-width="0.8"/>
<line x1="82.00" y1="361.20" x2="82.00" y2="363.00" stroke="#1e1e1e" stroke-width="0.8"/>
<line x1="85.00" y1="361.20" x2="85.00" y2="363.00" stroke="#1e1e1e" stroke-width="0.8"/>
<line x1="93.00" y1="361.20" x2="93.00" y2="363.00" stroke="#1e1e1e" stroke-width="0.8"/>
<line x1="96.00" y1="361.20" x2="96.00" y2="363.00" stroke="#1e1e1e" stroke-width="0.8"/>
<line x1="99.00" y1="361.20" x2="99.00" y2="363.00" stroke="#1e1e1e" stroke-width="0.8"/>
<line x1="102.00" y1="361.20" x2="102.00" y2="363.00" stroke="#1e1e1e" stroke-width="0.8"/>
<line x1="109.00" y1="361.20" x2="109.00" y2="363.00" stroke="#1e1e1e" stroke-width="0.8"/>
<line x1="112.00" y1="361.20" x2="112.00" y2="363.00" stroke="#1e1e1e" stroke-width="0.8"/>
<line x1="115.00" y1="361.20" x2="115.00" y2="363.00" stroke="#1e1e1e" stroke-width="0.8"/>
<line x1="118.00" y1="361.20" x2="118.00" y2="363.00" stroke="#1e1e1e" stroke-width="0.8"/>
<rect x="44.80" y="284.60" width="77.00" height="76.60" fill="none" stroke="#1e1e1e" stroke-width="1"/>
<line x1="44.80" y1="284.10" x2="44.80" y2="362.00" stroke="#1e1e1e" stroke-width="2.0"/>
<line x1="44.00" y1="361.20" x2="122.30" y2="361.20" stroke="#1e1e1e" stroke-width="1.8"/>
<text x="0" y="0" transform="translate(40.40,288.40) scale(1,1.18)" font-size="6.2" stroke="#1e1e1e" stroke-width="0.2" text-anchor="end">10<tspan font-size="4.4" dy="-2.7">6</tspan></text>
<text x="0" y="0" transform="translate(40.40,301.40) scale(1,1.18)" font-size="6.2" stroke="#1e1e1e" stroke-width="0.2" text-anchor="end">10<tspan font-size="4.4" dy="-2.7">5</tspan></text>
<text x="0" y="0" transform="translate(40.40,317.00) scale(1,1.18)" font-size="6.2" stroke="#1e1e1e" stroke-width="0.2" text-anchor="end">10<tspan font-size="4.4" dy="-2.7">4</tspan></text>
<text x="0" y="0" transform="translate(40.40,335.40) scale(1,1.18)" font-size="6.2" stroke="#1e1e1e" stroke-width="0.2" text-anchor="end">10<tspan font-size="4.4" dy="-2.7">3</tspan></text>
<text x="0" y="0" transform="translate(40.40,341.90) scale(1,1.18)" font-size="6.2" stroke="#1e1e1e" stroke-width="0.2" text-anchor="end">0</text>
<text x="0" y="0" transform="translate(40.40,348.40) scale(1,1.18)" font-size="6.2" stroke="#1e1e1e" stroke-width="0.2" text-anchor="end">−10<tspan font-size="4.4" dy="-2.7">3</tspan></text>
<text x="0" y="0" transform="translate(46.20,372.80) scale(1,1.18)" font-size="6.2" stroke="#1e1e1e" stroke-width="0.2" text-anchor="middle">−10<tspan font-size="4.4" dy="-2.7">4</tspan></text>
<text x="0" y="0" transform="translate(65.60,372.80) scale(1,1.18)" font-size="6.2" stroke="#1e1e1e" stroke-width="0.2" text-anchor="middle">0</text>
<text x="0" y="0" transform="translate(88.20,372.80) scale(1,1.18)" font-size="6.2" stroke="#1e1e1e" stroke-width="0.2" text-anchor="middle">10<tspan font-size="4.4" dy="-2.7">4</tspan></text>
<text x="0" y="0" transform="translate(105.80,372.80) scale(1,1.18)" font-size="6.2" stroke="#1e1e1e" stroke-width="0.2" text-anchor="middle">10<tspan font-size="4.4" dy="-2.7">5</tspan></text>
<text x="0" y="0" transform="translate(121.20,372.80) scale(1,1.18)" font-size="6.2" stroke="#1e1e1e" stroke-width="0.2" text-anchor="middle">10<tspan font-size="4.4" dy="-2.7">6</tspan></text>
</g>
<text x="49.00" y="279.90" font-size="10.4" stroke="#1e1e1e" stroke-width="0.05" font-style="italic" textLength="30.4" lengthAdjust="spacingAndGlyphs">Exosc3</text>
<text x="79.90" y="276.00" font-size="7.4" stroke="#1e1e1e" stroke-width="0.05" textLength="14.2" lengthAdjust="spacingAndGlyphs">C/C</text>
<text x="97.20" y="279.90" font-size="10.4" stroke="#1e1e1e" stroke-width="0.05" textLength="15.2" lengthAdjust="spacingAndGlyphs">Cre</text>
<text x="113.50" y="275.50" font-size="7.0" stroke="#1e1e1e" stroke-width="0.05">−</text>
<text x="0" y="0" font-size="9.6" text-anchor="middle" transform="translate(24.00,303.00) rotate(-90)" stroke="#1e1e1e" stroke-width="0.5" textLength="29.6" lengthAdjust="spacingAndGlyphs">APC - KIT</text>
<line x1="21.60" y1="326.00" x2="21.60" y2="383.50" stroke="#1e1e1e" stroke-width="1.2"/>
<line x1="21.10" y1="383.00" x2="71.20" y2="383.00" stroke="#1e1e1e" stroke-width="1.2"/>
<text x="78.80" y="387.00" font-size="10.0" stroke="#1e1e1e" stroke-width="0.45" textLength="42.5" lengthAdjust="spacingAndGlyphs">PE - CD24/71</text>
<line x1="70.90" y1="332.60" x2="131.50" y2="332.60" stroke="#1e1e1e" stroke-width="0.9"/>
<path d="M137.2,332.6 L131.2,330.2 L131.2,335.0 Z" fill="#1e1e1e"/>
<g filter="url(#b15)"><ellipse cx="200" cy="306.4" rx="13.5" ry="3.6" fill="#dcdef2" fill-opacity="0.7"/><ellipse cx="196" cy="321" rx="8" ry="12" fill="#f0f0f8" fill-opacity="0.6"/></g>
<g filter="url(#sp)"><ellipse cx="200" cy="306.4" rx="14.5" ry="4.2" fill="#8088d4" fill-opacity="0.75"/><ellipse cx="196" cy="321" rx="9" ry="12.5" fill="#b0b6e4" fill-opacity="0.45"/></g>
<g filter="url(#b1)"><ellipse cx="189.6" cy="342.1" rx="10.5" ry="3.7" fill="#6a8ce0" fill-opacity="0.75"/><ellipse cx="190.2" cy="342.1" rx="7.4" ry="3.0" fill="#38b0c0"/><ellipse cx="190.5" cy="342.1" rx="5.2" ry="2.5" fill="#7cc444"/><ellipse cx="190.6" cy="342.1" rx="2.8" ry="1.7" fill="#e8d020"/><ellipse cx="190.6" cy="342.1" rx="1.4" ry="1.0" fill="#e85818"/></g>
<line x1="199.40" y1="285.50" x2="199.40" y2="362.00" stroke="#1e1e1e" stroke-width="0.9"/>
<line x1="172.00" y1="337.10" x2="247.40" y2="337.10" stroke="#1e1e1e" stroke-width="0.9"/>
<text x="0" y="0" transform="translate(174.40,294.20) scale(1,1.2)" font-size="6.2" stroke="#1e1e1e" stroke-width="0.2">Dead</text>
<text x="0" y="0" transform="translate(174.40,301.20) scale(1,1.2)" font-size="6.2" stroke="#1e1e1e" stroke-width="0.2">5.85</text>
<text x="0" y="0" transform="translate(242.20,293.20) scale(1,1.2)" font-size="6.2" stroke="#1e1e1e" stroke-width="0.2" text-anchor="end">Apoptotic</text>
<text x="0" y="0" transform="translate(242.20,300.60) scale(1,1.2)" font-size="6.2" stroke="#1e1e1e" stroke-width="0.2" text-anchor="end">4.35</text>
<text x="0" y="0" transform="translate(173.80,352.90) scale(1,1.2)" font-size="6.2" stroke="#1e1e1e" stroke-width="0.2">Live</text>
<text x="0" y="0" transform="translate(173.80,360.00) scale(1,1.2)" font-size="6.2" stroke="#1e1e1e" stroke-width="0.2">87.6</text>
<text x="0" y="0" transform="translate(239.40,351.60) scale(1,1.2)" font-size="6.2" stroke="#1e1e1e" stroke-width="0.2" text-anchor="end">Early</text>
<text x="0" y="0" transform="translate(240.60,359.20) scale(1,1.2)" font-size="6.2" stroke="#1e1e1e" stroke-width="0.2" text-anchor="end">2.21</text>
<line x1="169.80" y1="285.60" x2="172.00" y2="285.60" stroke="#1e1e1e" stroke-width="1.0"/>
<line x1="169.80" y1="298.00" x2="172.00" y2="298.00" stroke="#1e1e1e" stroke-width="1.0"/>
<line x1="169.80" y1="311.60" x2="172.00" y2="311.60" stroke="#1e1e1e" stroke-width="1.0"/>
<line x1="169.80" y1="326.00" x2="172.00" y2="326.00" stroke="#1e1e1e" stroke-width="1.0"/>
<line x1="169.80" y1="342.00" x2="172.00" y2="342.00" stroke="#1e1e1e" stroke-width="1.0"/>
<line x1="169.80" y1="358.40" x2="172.00" y2="358.40" stroke="#1e1e1e" stroke-width="1.0"/>
<line x1="170.20" y1="294.27" x2="172.00" y2="294.27" stroke="#1e1e1e" stroke-width="0.9"/>
<line x1="170.20" y1="292.08" x2="172.00" y2="292.08" stroke="#1e1e1e" stroke-width="0.9"/>
<line x1="170.20" y1="290.53" x2="172.00" y2="290.53" stroke="#1e1e1e" stroke-width="0.9"/>
<line x1="170.20" y1="289.33" x2="172.00" y2="289.33" stroke="#1e1e1e" stroke-width="0.9"/>
<line x1="170.20" y1="288.35" x2="172.00" y2="288.35" stroke="#1e1e1e" stroke-width="0.9"/>
<line x1="170.20" y1="287.52" x2="172.00" y2="287.52" stroke="#1e1e1e" stroke-width="0.9"/>
<line x1="170.20" y1="286.80" x2="172.00" y2="286.80" stroke="#1e1e1e" stroke-width="0.9"/>
<line x1="170.20" y1="286.17" x2="172.00" y2="286.17" stroke="#1e1e1e" stroke-width="0.9"/>
<line x1="170.20" y1="307.51" x2="172.00" y2="307.51" stroke="#1e1e1e" stroke-width="0.9"/>
<line x1="170.20" y1="305.11" x2="172.00" y2="305.11" stroke="#1e1e1e" stroke-width="0.9"/>
<line x1="170.20" y1="303.41" x2="172.00" y2="303.41" stroke="#1e1e1e" stroke-width="0.9"/>
<line x1="170.20" y1="302.09" x2="172.00" y2="302.09" stroke="#1e1e1e" stroke-width="0.9"/>
<line x1="170.20" y1="301.02" x2="172.00" y2="301.02" stroke="#1e1e1e" stroke-width="0.9"/>
<line x1="170.20" y1="300.11" x2="172.00" y2="300.11" stroke="#1e1e1e" stroke-width="0.9"/>
<line x1="170.20" y1="299.32" x2="172.00" y2="299.32" stroke="#1e1e1e" stroke-width="0.9"/>
<line x1="170.20" y1="298.62" x2="172.00" y2="298.62" stroke="#1e1e1e" stroke-width="0.9"/>
<line x1="170.20" y1="321.67" x2="172.00" y2="321.67" stroke="#1e1e1e" stroke-width="0.9"/>
<line x1="170.20" y1="319.13" x2="172.00" y2="319.13" stroke="#1e1e1e" stroke-width="0.9"/>
<line x1="170.20" y1="317.33" x2="172.00" y2="317.33" stroke="#1e1e1e" stroke-width="0.9"/>
<line x1="170.20" y1="315.93" x2="172.00" y2="315.93" stroke="#1e1e1e" stroke-width="0.9"/>
<line x1="170.20" y1="314.79" x2="172.00" y2="314.79" stroke="#1e1e1e" stroke-width="0.9"/>
<line x1="170.20" y1="313.83" x2="172.00" y2="313.83" stroke="#1e1e1e" stroke-width="0.9"/>
<line x1="170.20" y1="313.00" x2="172.00" y2="313.00" stroke="#1e1e1e" stroke-width="0.9"/>
<line x1="170.20" y1="312.26" x2="172.00" y2="312.26" stroke="#1e1e1e" stroke-width="0.9"/>
<line x1="170.20" y1="330.00" x2="172.00" y2="330.00" stroke="#1e1e1e" stroke-width="0.9"/>
<line x1="170.20" y1="334.00" x2="172.00" y2="334.00" stroke="#1e1e1e" stroke-width="0.9"/>
<line x1="170.20" y1="338.00" x2="172.00" y2="338.00" stroke="#1e1e1e" stroke-width="0.9"/>
<line x1="170.20" y1="346.00" x2="172.00" y2="346.00" stroke="#1e1e1e" stroke-width="0.9"/>
<line x1="170.20" y1="350.00" x2="172.00" y2="350.00" stroke="#1e1e1e" stroke-width="0.9"/>
<line x1="170.20" y1="354.00" x2="172.00" y2="354.00" stroke="#1e1e1e" stroke-width="0.9"/>
<line x1="188.00" y1="362.00" x2="188.00" y2="364.20" stroke="#1e1e1e" stroke-width="1.0"/>
<line x1="205.20" y1="362.00" x2="205.20" y2="364.20" stroke="#1e1e1e" stroke-width="1.0"/>
<line x1="223.70" y1="362.00" x2="223.70" y2="364.20" stroke="#1e1e1e" stroke-width="1.0"/>
<line x1="243.70" y1="362.00" x2="243.70" y2="364.20" stroke="#1e1e1e" stroke-width="1.0"/>
<line x1="176.00" y1="362.00" x2="176.00" y2="363.80" stroke="#1e1e1e" stroke-width="0.8"/>
<line x1="179.00" y1="362.00" x2="179.00" y2="363.80" stroke="#1e1e1e" stroke-width="0.8"/>
<line x1="182.00" y1="362.00" x2="182.00" y2="363.80" stroke="#1e1e1e" stroke-width="0.8"/>
<line x1="185.00" y1="362.00" x2="185.00" y2="363.80" stroke="#1e1e1e" stroke-width="0.8"/>
<line x1="191.00" y1="362.00" x2="191.00" y2="363.80" stroke="#1e1e1e" stroke-width="0.8"/>
<line x1="194.00" y1="362.00" x2="194.00" y2="363.80" stroke="#1e1e1e" stroke-width="0.8"/>
<line x1="197.00" y1="362.00" x2="197.00" y2="363.80" stroke="#1e1e1e" stroke-width="0.8"/>
<line x1="200.00" y1="362.00" x2="200.00" y2="363.80" stroke="#1e1e1e" stroke-width="0.8"/>
<line x1="210.00" y1="362.00" x2="210.00" y2="363.80" stroke="#1e1e1e" stroke-width="0.8"/>
<line x1="213.00" y1="362.00" x2="213.00" y2="363.80" stroke="#1e1e1e" stroke-width="0.8"/>
<line x1="216.00" y1="362.00" x2="216.00" y2="363.80" stroke="#1e1e1e" stroke-width="0.8"/>
<line x1="219.00" y1="362.00" x2="219.00" y2="363.80" stroke="#1e1e1e" stroke-width="0.8"/>
<line x1="228.00" y1="362.00" x2="228.00" y2="363.80" stroke="#1e1e1e" stroke-width="0.8"/>
<line x1="231.00" y1="362.00" x2="231.00" y2="363.80" stroke="#1e1e1e" stroke-width="0.8"/>
<line x1="234.00" y1="362.00" x2="234.00" y2="363.80" stroke="#1e1e1e" stroke-width="0.8"/>
<line x1="238.00" y1="362.00" x2="238.00" y2="363.80" stroke="#1e1e1e" stroke-width="0.8"/>
<rect x="172.00" y="285.50" width="75.40" height="76.50" fill="none" stroke="#1e1e1e" stroke-width="1"/>
<line x1="172.00" y1="285.00" x2="172.00" y2="362.80" stroke="#1e1e1e" stroke-width="2.0"/>
<line x1="171.20" y1="362.00" x2="247.90" y2="362.00" stroke="#1e1e1e" stroke-width="1.8"/>
<text x="0" y="0" transform="translate(166.20,288.00) scale(1,1.18)" font-size="6.2" stroke="#1e1e1e" stroke-width="0.2" text-anchor="end">10<tspan font-size="4.4" dy="-2.7">6</tspan></text>
<text x="0" y="0" transform="translate(166.20,300.40) scale(1,1.18)" font-size="6.2" stroke="#1e1e1e" stroke-width="0.2" text-anchor="end">10<tspan font-size="4.4" dy="-2.7">5</tspan></text>
<text x="0" y="0" transform="translate(166.20,314.00) scale(1,1.18)" font-size="6.2" stroke="#1e1e1e" stroke-width="0.2" text-anchor="end">10<tspan font-size="4.4" dy="-2.7">4</tspan></text>
<text x="0" y="0" transform="translate(166.20,328.40) scale(1,1.18)" font-size="6.2" stroke="#1e1e1e" stroke-width="0.2" text-anchor="end">10<tspan font-size="4.4" dy="-2.7">3</tspan></text>
<text x="0" y="0" transform="translate(166.20,344.40) scale(1,1.18)" font-size="6.2" stroke="#1e1e1e" stroke-width="0.2" text-anchor="end">0</text>
<text x="0" y="0" transform="translate(166.20,360.80) scale(1,1.18)" font-size="6.2" stroke="#1e1e1e" stroke-width="0.2" text-anchor="end">−10<tspan font-size="4.4" dy="-2.7">3</tspan></text>
<text x="0" y="0" transform="translate(188.00,373.00) scale(1,1.18)" font-size="6.2" stroke="#1e1e1e" stroke-width="0.2" text-anchor="middle">0</text>
<text x="0" y="0" transform="translate(205.20,373.00) scale(1,1.18)" font-size="6.2" stroke="#1e1e1e" stroke-width="0.2" text-anchor="middle">10<tspan font-size="4.4" dy="-2.7">3</tspan></text>
<text x="0" y="0" transform="translate(223.80,373.00) scale(1,1.18)" font-size="6.2" stroke="#1e1e1e" stroke-width="0.2" text-anchor="middle">10<tspan font-size="4.4" dy="-2.7">4</tspan></text>
<text x="0" y="0" transform="translate(243.80,373.00) scale(1,1.18)" font-size="6.2" stroke="#1e1e1e" stroke-width="0.2" text-anchor="middle">10<tspan font-size="4.4" dy="-2.7">5</tspan></text>
<text x="176.00" y="279.90" font-size="10.4" stroke="#1e1e1e" stroke-width="0.05" font-style="italic" textLength="30.4" lengthAdjust="spacingAndGlyphs">Exosc3</text>
<text x="206.90" y="276.00" font-size="7.4" stroke="#1e1e1e" stroke-width="0.05" textLength="14.2" lengthAdjust="spacingAndGlyphs">C/C</text>
<text x="224.20" y="279.90" font-size="10.4" stroke="#1e1e1e" stroke-width="0.05" textLength="15.2" lengthAdjust="spacingAndGlyphs">Cre</text>
<text x="240.50" y="275.50" font-size="7.0" stroke="#1e1e1e" stroke-width="0.05">−</text>
<text x="0" y="0" font-size="9.6" text-anchor="middle" transform="translate(151.00,296.30) rotate(-90)" stroke="#1e1e1e" stroke-width="0.5" textLength="21" lengthAdjust="spacingAndGlyphs">DRAQ7</text>
<line x1="147.60" y1="314.00" x2="147.60" y2="383.50" stroke="#1e1e1e" stroke-width="1.2"/>
<line x1="147.10" y1="383.00" x2="225.60" y2="383.00" stroke="#1e1e1e" stroke-width="1.2"/>
<text x="233.00" y="386.40" font-size="10.0" stroke="#1e1e1e" stroke-width="0.45" textLength="14.6" lengthAdjust="spacingAndGlyphs">AnnV</text>
<g filter="url(#b15)"><path d="M319,308 Q332,305 344,305.5 Q356,306.5 361,313 L363.5,330 L362.5,342 L350,343.5 L334,342.5 L320,341 L318.5,330 Z" fill="#b8c0ee" fill-opacity="0.85"/><path d="M330,316 Q338,313 344,318 L348,334 L338,336 L329,334 Z" fill="#e4e0f6"/></g>
<g filter="url(#sp)"><path d="M319,308 Q332,305 344,305.5 Q356,306.5 361,313 L363.5,330 L362.5,342 L350,343.5 L334,342.5 L320,341 L318.5,330 Z" fill="#4a60cc" fill-opacity="0.75"/></g>
<g filter="url(#b15)"><path d="M330,316 Q338,313 344,318 L348,334 L338,336 L329,334 Z" fill="#f2f0fa" fill-opacity="0.6"/></g>
<g filter="url(#b15)" fill="none" stroke-linecap="round"><path d="M339,308 Q350,309 353.5,318 L356.5,336" stroke="#5a74d0" stroke-width="10" stroke-opacity="0.85"/><path d="M323,310 L323,336" stroke="#7080d0" stroke-width="5" stroke-opacity="0.5"/></g>
<g filter="url(#b1)" fill="none" stroke-linecap="round"><path d="M342.5,309.6 Q351,311 353.6,319 L355.8,334" stroke="#40b0b8" stroke-width="7.5"/><path d="M346,311 Q352,313 353.7,320 L355.4,332" stroke="#90cc44" stroke-width="5"/><path d="M349.5,313 Q353,316 353.8,322 L354.6,328" stroke="#d4dc30" stroke-width="3"/></g>
<g filter="url(#b1)"><ellipse cx="358.2" cy="338.6" rx="8.2" ry="4.8" fill="#58a8c8" fill-opacity="0.85"/><ellipse cx="358.2" cy="338.6" rx="6.0" ry="3.6" fill="#e8d030"/><ellipse cx="358.3" cy="338.6" rx="4.4" ry="2.7" fill="#f07820"/><ellipse cx="358.4" cy="338.6" rx="2.6" ry="1.7" fill="#e01c10"/></g>
<rect x="316.5" y="299.5" width="12.0" height="36.0" fill="none" stroke="#1e1e1e" stroke-width="0.9"/>
<rect x="355.7" y="299.5" width="15.8" height="36.0" fill="none" stroke="#1e1e1e" stroke-width="0.9"/>
<text x="0" y="0" transform="translate(303.80,292.40) scale(1,1.2)" font-size="6.2" stroke="#1e1e1e" stroke-width="0.2">BFU-E</text>
<text x="0" y="0" transform="translate(304.40,299.00) scale(1,1.2)" font-size="6.2" stroke="#1e1e1e" stroke-width="0.2">5.02</text>
<text x="0" y="0" transform="translate(353.00,292.40) scale(1,1.2)" font-size="6.2" stroke="#1e1e1e" stroke-width="0.2">CFU-E</text>
<text x="0" y="0" transform="translate(372.40,299.00) scale(1,1.2)" font-size="6.2" stroke="#1e1e1e" stroke-width="0.2" text-anchor="end">17.6</text>
<line x1="299.60" y1="285.00" x2="301.80" y2="285.00" stroke="#1e1e1e" stroke-width="1.0"/>
<line x1="299.60" y1="298.00" x2="301.80" y2="298.00" stroke="#1e1e1e" stroke-width="1.0"/>
<line x1="299.60" y1="313.60" x2="301.80" y2="313.60" stroke="#1e1e1e" stroke-width="1.0"/>
<line x1="299.60" y1="333.00" x2="301.80" y2="333.00" stroke="#1e1e1e" stroke-width="1.0"/>
<line x1="299.60" y1="340.40" x2="301.80" y2="340.40" stroke="#1e1e1e" stroke-width="1.0"/>
<line x1="299.60" y1="347.00" x2="301.80" y2="347.00" stroke="#1e1e1e" stroke-width="1.0"/>
<line x1="300.00" y1="294.09" x2="301.80" y2="294.09" stroke="#1e1e1e" stroke-width="0.9"/>
<line x1="300.00" y1="291.80" x2="301.80" y2="291.80" stroke="#1e1e1e" stroke-width="0.9"/>
<line x1="300.00" y1="290.17" x2="301.80" y2="290.17" stroke="#1e1e1e" stroke-width="0.9"/>
<line x1="300.00" y1="288.91" x2="301.80" y2="288.91" stroke="#1e1e1e" stroke-width="0.9"/>
<line x1="300.00" y1="287.88" x2="301.80" y2="287.88" stroke="#1e1e1e" stroke-width="0.9"/>
<line x1="300.00" y1="287.01" x2="301.80" y2="287.01" stroke="#1e1e1e" stroke-width="0.9"/>
<line x1="300.00" y1="286.26" x2="301.80" y2="286.26" stroke="#1e1e1e" stroke-width="0.9"/>
<line x1="300.00" y1="285.59" x2="301.80" y2="285.59" stroke="#1e1e1e" stroke-width="0.9"/>
<line x1="300.00" y1="308.90" x2="301.80" y2="308.90" stroke="#1e1e1e" stroke-width="0.9"/>
<line x1="300.00" y1="306.16" x2="301.80" y2="306.16" stroke="#1e1e1e" stroke-width="0.9"/>
<line x1="300.00" y1="304.21" x2="301.80" y2="304.21" stroke="#1e1e1e" stroke-width="0.9"/>
<line x1="300.00" y1="302.70" x2="301.80" y2="302.70" stroke="#1e1e1e" stroke-width="0.9"/>
<line x1="300.00" y1="301.46" x2="301.80" y2="301.46" stroke="#1e1e1e" stroke-width="0.9"/>
<line x1="300.00" y1="300.42" x2="301.80" y2="300.42" stroke="#1e1e1e" stroke-width="0.9"/>
<line x1="300.00" y1="299.51" x2="301.80" y2="299.51" stroke="#1e1e1e" stroke-width="0.9"/>
<line x1="300.00" y1="298.71" x2="301.80" y2="298.71" stroke="#1e1e1e" stroke-width="0.9"/>
<line x1="300.00" y1="327.16" x2="301.80" y2="327.16" stroke="#1e1e1e" stroke-width="0.9"/>
<line x1="300.00" y1="323.74" x2="301.80" y2="323.74" stroke="#1e1e1e" stroke-width="0.9"/>
<line x1="300.00" y1="321.32" x2="301.80" y2="321.32" stroke="#1e1e1e" stroke-width="0.9"/>
<line x1="300.00" y1="319.44" x2="301.80" y2="319.44" stroke="#1e1e1e" stroke-width="0.9"/>
<line x1="300.00" y1="317.90" x2="301.80" y2="317.90" stroke="#1e1e1e" stroke-width="0.9"/>
<line x1="300.00" y1="316.61" x2="301.80" y2="316.61" stroke="#1e1e1e" stroke-width="0.9"/>
<line x1="300.00" y1="315.48" x2="301.80" y2="315.48" stroke="#1e1e1e" stroke-width="0.9"/>
<line x1="300.00" y1="314.49" x2="301.80" y2="314.49" stroke="#1e1e1e" stroke-width="0.9"/>
<line x1="300.00" y1="350.00" x2="301.80" y2="350.00" stroke="#1e1e1e" stroke-width="0.9"/>
<line x1="300.00" y1="353.00" x2="301.80" y2="353.00" stroke="#1e1e1e" stroke-width="0.9"/>
<line x1="300.00" y1="356.00" x2="301.80" y2="356.00" stroke="#1e1e1e" stroke-width="0.9"/>
<line x1="300.00" y1="359.00" x2="301.80" y2="359.00" stroke="#1e1e1e" stroke-width="0.9"/>
<line x1="303.70" y1="361.20" x2="303.70" y2="363.40" stroke="#1e1e1e" stroke-width="1.0"/>
<line x1="322.70" y1="361.20" x2="322.70" y2="363.40" stroke="#1e1e1e" stroke-width="1.0"/>
<line x1="345.60" y1="361.20" x2="345.60" y2="363.40" stroke="#1e1e1e" stroke-width="1.0"/>
<line x1="363.70" y1="361.20" x2="363.70" y2="363.40" stroke="#1e1e1e" stroke-width="1.0"/>
<line x1="374.00" y1="361.20" x2="374.00" y2="363.40" stroke="#1e1e1e" stroke-width="1.0"/>
<line x1="307.00" y1="361.20" x2="307.00" y2="363.00" stroke="#1e1e1e" stroke-width="0.8"/>
<line x1="311.00" y1="361.20" x2="311.00" y2="363.00" stroke="#1e1e1e" stroke-width="0.8"/>
<line x1="315.00" y1="361.20" x2="315.00" y2="363.00" stroke="#1e1e1e" stroke-width="0.8"/>
<line x1="318.00" y1="361.20" x2="318.00" y2="363.00" stroke="#1e1e1e" stroke-width="0.8"/>
<line x1="320.00" y1="361.20" x2="320.00" y2="363.00" stroke="#1e1e1e" stroke-width="0.8"/>
<line x1="325.00" y1="361.20" x2="325.00" y2="363.00" stroke="#1e1e1e" stroke-width="0.8"/>
<line x1="327.00" y1="361.20" x2="327.00" y2="363.00" stroke="#1e1e1e" stroke-width="0.8"/>
<line x1="329.00" y1="361.20" x2="329.00" y2="363.00" stroke="#1e1e1e" stroke-width="0.8"/>
<line x1="332.00" y1="361.20" x2="332.00" y2="363.00" stroke="#1e1e1e" stroke-width="0.8"/>
<line x1="336.00" y1="361.20" x2="336.00" y2="363.00" stroke="#1e1e1e" stroke-width="0.8"/>
<line x1="339.00" y1="361.20" x2="339.00" y2="363.00" stroke="#1e1e1e" stroke-width="0.8"/>
<line x1="342.00" y1="361.20" x2="342.00" y2="363.00" stroke="#1e1e1e" stroke-width="0.8"/>
<line x1="350.00" y1="361.20" x2="350.00" y2="363.00" stroke="#1e1e1e" stroke-width="0.8"/>
<line x1="353.00" y1="361.20" x2="353.00" y2="363.00" stroke="#1e1e1e" stroke-width="0.8"/>
<line x1="356.00" y1="361.20" x2="356.00" y2="363.00" stroke="#1e1e1e" stroke-width="0.8"/>
<line x1="360.00" y1="361.20" x2="360.00" y2="363.00" stroke="#1e1e1e" stroke-width="0.8"/>
<line x1="366.00" y1="361.20" x2="366.00" y2="363.00" stroke="#1e1e1e" stroke-width="0.8"/>
<line x1="368.00" y1="361.20" x2="368.00" y2="363.00" stroke="#1e1e1e" stroke-width="0.8"/>
<line x1="371.00" y1="361.20" x2="371.00" y2="363.00" stroke="#1e1e1e" stroke-width="0.8"/>
<line x1="376.00" y1="361.20" x2="376.00" y2="363.00" stroke="#1e1e1e" stroke-width="0.8"/>
<rect x="301.80" y="284.80" width="76.80" height="76.40" fill="none" stroke="#1e1e1e" stroke-width="1"/>
<line x1="301.80" y1="284.30" x2="301.80" y2="362.00" stroke="#1e1e1e" stroke-width="2.0"/>
<line x1="301.00" y1="361.20" x2="379.10" y2="361.20" stroke="#1e1e1e" stroke-width="1.8"/>
<text x="0" y="0" transform="translate(297.40,287.40) scale(1,1.18)" font-size="6.2" stroke="#1e1e1e" stroke-width="0.2" text-anchor="end">10<tspan font-size="4.4" dy="-2.7">6</tspan></text>
<text x="0" y="0" transform="translate(297.40,300.40) scale(1,1.18)" font-size="6.2" stroke="#1e1e1e" stroke-width="0.2" text-anchor="end">10<tspan font-size="4.4" dy="-2.7">5</tspan></text>
<text x="0" y="0" transform="translate(297.40,316.00) scale(1,1.18)" font-size="6.2" stroke="#1e1e1e" stroke-width="0.2" text-anchor="end">10<tspan font-size="4.4" dy="-2.7">4</tspan></text>
<text x="0" y="0" transform="translate(297.40,335.40) scale(1,1.18)" font-size="6.2" stroke="#1e1e1e" stroke-width="0.2" text-anchor="end">10<tspan font-size="4.4" dy="-2.7">3</tspan></text>
<text x="0" y="0" transform="translate(297.40,342.80) scale(1,1.18)" font-size="6.2" stroke="#1e1e1e" stroke-width="0.2" text-anchor="end">0</text>
<text x="0" y="0" transform="translate(297.40,349.40) scale(1,1.18)" font-size="6.2" stroke="#1e1e1e" stroke-width="0.2" text-anchor="end">−10<tspan font-size="4.4" dy="-2.7">3</tspan></text>
<text x="0" y="0" transform="translate(303.70,372.60) scale(1,1.18)" font-size="6.2" stroke="#1e1e1e" stroke-width="0.2" text-anchor="middle">−10<tspan font-size="4.4" dy="-2.7">4</tspan></text>
<text x="0" y="0" transform="translate(322.70,372.60) scale(1,1.18)" font-size="6.2" stroke="#1e1e1e" stroke-width="0.2" text-anchor="middle">0</text>
<text x="0" y="0" transform="translate(345.60,372.60) scale(1,1.18)" font-size="6.2" stroke="#1e1e1e" stroke-width="0.2" text-anchor="middle">10<tspan font-size="4.4" dy="-2.7">4</tspan></text>
<text x="0" y="0" transform="translate(363.60,372.60) scale(1,1.18)" font-size="6.2" stroke="#1e1e1e" stroke-width="0.2" text-anchor="middle">10<tspan font-size="4.4" dy="-2.7">5</tspan></text>
<text x="0" y="0" transform="translate(374.60,372.60) scale(1,1.18)" font-size="6.2" stroke="#1e1e1e" stroke-width="0.2" text-anchor="middle">10<tspan font-size="4.4" dy="-2.7">6</tspan></text>
<text x="307.00" y="279.90" font-size="10.4" stroke="#1e1e1e" stroke-width="0.05" font-style="italic" textLength="30.4" lengthAdjust="spacingAndGlyphs">Exosc3</text>
<text x="337.90" y="276.00" font-size="7.4" stroke="#1e1e1e" stroke-width="0.05" textLength="14.2" lengthAdjust="spacingAndGlyphs">C/C</text>
<text x="355.20" y="279.90" font-size="10.4" stroke="#1e1e1e" stroke-width="0.05" textLength="15.2" lengthAdjust="spacingAndGlyphs">Cre</text>
<text x="371.80" y="276.50" font-size="7.6" stroke="#1e1e1e" stroke-width="0.05">+</text>
<text x="0" y="0" font-size="9.6" text-anchor="middle" transform="translate(281.60,303.00) rotate(-90)" stroke="#1e1e1e" stroke-width="0.5" textLength="29.6" lengthAdjust="spacingAndGlyphs">APC - KIT</text>
<line x1="277.20" y1="326.00" x2="277.20" y2="383.50" stroke="#1e1e1e" stroke-width="1.2"/>
<line x1="276.70" y1="383.00" x2="330.20" y2="383.00" stroke="#1e1e1e" stroke-width="1.2"/>
<text x="335.50" y="387.00" font-size="10.0" stroke="#1e1e1e" stroke-width="0.45" textLength="43.2" lengthAdjust="spacingAndGlyphs">PE - CD24/71</text>
<line x1="328.50" y1="332.60" x2="388.20" y2="332.60" stroke="#1e1e1e" stroke-width="0.9"/>
<path d="M394.0,332.6 L388.0,330.2 L388.0,335.0 Z" fill="#1e1e1e"/>
<g filter="url(#b15)"><ellipse cx="463.5" cy="306.2" rx="15.5" ry="3.8" fill="#cacce4" fill-opacity="0.8"/><ellipse cx="461" cy="321" rx="10" ry="12" fill="#eeeef6" fill-opacity="0.6"/></g>
<g filter="url(#sp)"><ellipse cx="463.5" cy="306.2" rx="16.5" ry="4.4" fill="#6870b4" fill-opacity="0.8"/><ellipse cx="461" cy="321" rx="11" ry="12.5" fill="#a8acd0" fill-opacity="0.45"/></g>
<g filter="url(#b1)"><ellipse cx="453" cy="342.2" rx="9" ry="4.2" fill="#b8badc" fill-opacity="0.85"/><ellipse cx="452.6" cy="342.0" rx="5.6" ry="2.9" fill="#9a9aa6"/><ellipse cx="452.4" cy="341.8" rx="2.8" ry="1.7" fill="#7c7c84"/></g>
<line x1="463.40" y1="285.00" x2="463.40" y2="361.20" stroke="#1e1e1e" stroke-width="0.9"/>
<line x1="435.60" y1="336.90" x2="512.00" y2="336.90" stroke="#1e1e1e" stroke-width="0.9"/>
<text x="0" y="0" transform="translate(438.00,294.20) scale(1,1.2)" font-size="6.2" stroke="#1e1e1e" stroke-width="0.2">Dead</text>
<text x="0" y="0" transform="translate(438.00,301.00) scale(1,1.2)" font-size="6.2" stroke="#1e1e1e" stroke-width="0.2">20.9</text>
<text x="0" y="0" transform="translate(507.80,293.40) scale(1,1.2)" font-size="6.2" stroke="#1e1e1e" stroke-width="0.2" text-anchor="end">Apoptotic</text>
<text x="0" y="0" transform="translate(507.80,300.80) scale(1,1.2)" font-size="6.2" stroke="#1e1e1e" stroke-width="0.2" text-anchor="end">12.7</text>
<text x="0" y="0" transform="translate(439.20,352.90) scale(1,1.2)" font-size="6.2" stroke="#1e1e1e" stroke-width="0.2">Live</text>
<text x="0" y="0" transform="translate(438.00,360.00) scale(1,1.2)" font-size="6.2" stroke="#1e1e1e" stroke-width="0.2">64.9</text>
<text x="0" y="0" transform="translate(505.20,352.00) scale(1,1.2)" font-size="6.2" stroke="#1e1e1e" stroke-width="0.2" text-anchor="end">Early</text>
<text x="0" y="0" transform="translate(507.20,359.60) scale(1,1.2)" font-size="6.2" stroke="#1e1e1e" stroke-width="0.2" text-anchor="end">1.56</text>
<line x1="433.40" y1="285.40" x2="435.60" y2="285.40" stroke="#1e1e1e" stroke-width="1.0"/>
<line x1="433.40" y1="298.00" x2="435.60" y2="298.00" stroke="#1e1e1e" stroke-width="1.0"/>
<line x1="433.40" y1="311.60" x2="435.60" y2="311.60" stroke="#1e1e1e" stroke-width="1.0"/>
<line x1="433.40" y1="326.00" x2="435.60" y2="326.00" stroke="#1e1e1e" stroke-width="1.0"/>
<line x1="433.40" y1="342.00" x2="435.60" y2="342.00" stroke="#1e1e1e" stroke-width="1.0"/>
<line x1="433.40" y1="358.40" x2="435.60" y2="358.40" stroke="#1e1e1e" stroke-width="1.0"/>
<line x1="433.80" y1="294.21" x2="435.60" y2="294.21" stroke="#1e1e1e" stroke-width="0.9"/>
<line x1="433.80" y1="291.99" x2="435.60" y2="291.99" stroke="#1e1e1e" stroke-width="0.9"/>
<line x1="433.80" y1="290.41" x2="435.60" y2="290.41" stroke="#1e1e1e" stroke-width="0.9"/>
<line x1="433.80" y1="289.19" x2="435.60" y2="289.19" stroke="#1e1e1e" stroke-width="0.9"/>
<line x1="433.80" y1="288.20" x2="435.60" y2="288.20" stroke="#1e1e1e" stroke-width="0.9"/>
<line x1="433.80" y1="287.35" x2="435.60" y2="287.35" stroke="#1e1e1e" stroke-width="0.9"/>
<line x1="433.80" y1="286.62" x2="435.60" y2="286.62" stroke="#1e1e1e" stroke-width="0.9"/>
<line x1="433.80" y1="285.98" x2="435.60" y2="285.98" stroke="#1e1e1e" stroke-width="0.9"/>
<line x1="433.80" y1="307.51" x2="435.60" y2="307.51" stroke="#1e1e1e" stroke-width="0.9"/>
<line x1="433.80" y1="305.11" x2="435.60" y2="305.11" stroke="#1e1e1e" stroke-width="0.9"/>
<line x1="433.80" y1="303.41" x2="435.60" y2="303.41" stroke="#1e1e1e" stroke-width="0.9"/>
<line x1="433.80" y1="302.09" x2="435.60" y2="302.09" stroke="#1e1e1e" stroke-width="0.9"/>
<line x1="433.80" y1="301.02" x2="435.60" y2="301.02" stroke="#1e1e1e" stroke-width="0.9"/>
<line x1="433.80" y1="300.11" x2="435.60" y2="300.11" stroke="#1e1e1e" stroke-width="0.9"/>
<line x1="433.80" y1="299.32" x2="435.60" y2="299.32" stroke="#1e1e1e" stroke-width="0.9"/>
<line x1="433.80" y1="298.62" x2="435.60" y2="298.62" stroke="#1e1e1e" stroke-width="0.9"/>
<line x1="433.80" y1="321.67" x2="435.60" y2="321.67" stroke="#1e1e1e" stroke-width="0.9"/>
<line x1="433.80" y1="319.13" x2="435.60" y2="319.13" stroke="#1e1e1e" stroke-width="0.9"/>
<line x1="433.80" y1="317.33" x2="435.60" y2="317.33" stroke="#1e1e1e" stroke-width="0.9"/>
<line x1="433.80" y1="315.93" x2="435.60" y2="315.93" stroke="#1e1e1e" stroke-width="0.9"/>
<line x1="433.80" y1="314.79" x2="435.60" y2="314.79" stroke="#1e1e1e" stroke-width="0.9"/>
<line x1="433.80" y1="313.83" x2="435.60" y2="313.83" stroke="#1e1e1e" stroke-width="0.9"/>
<line x1="433.80" y1="313.00" x2="435.60" y2="313.00" stroke="#1e1e1e" stroke-width="0.9"/>
<line x1="433.80" y1="312.26" x2="435.60" y2="312.26" stroke="#1e1e1e" stroke-width="0.9"/>
<line x1="433.80" y1="330.00" x2="435.60" y2="330.00" stroke="#1e1e1e" stroke-width="0.9"/>
<line x1="433.80" y1="334.00" x2="435.60" y2="334.00" stroke="#1e1e1e" stroke-width="0.9"/>
<line x1="433.80" y1="338.00" x2="435.60" y2="338.00" stroke="#1e1e1e" stroke-width="0.9"/>
<line x1="433.80" y1="346.00" x2="435.60" y2="346.00" stroke="#1e1e1e" stroke-width="0.9"/>
<line x1="433.80" y1="350.00" x2="435.60" y2="350.00" stroke="#1e1e1e" stroke-width="0.9"/>
<line x1="433.80" y1="354.00" x2="435.60" y2="354.00" stroke="#1e1e1e" stroke-width="0.9"/>
<line x1="453.50" y1="361.20" x2="453.50" y2="363.40" stroke="#1e1e1e" stroke-width="1.0"/>
<line x1="475.30" y1="361.20" x2="475.30" y2="363.40" stroke="#1e1e1e" stroke-width="1.0"/>
<line x1="486.70" y1="361.20" x2="486.70" y2="363.40" stroke="#1e1e1e" stroke-width="1.0"/>
<line x1="507.80" y1="361.20" x2="507.80" y2="363.40" stroke="#1e1e1e" stroke-width="1.0"/>
<line x1="440.00" y1="361.20" x2="440.00" y2="363.00" stroke="#1e1e1e" stroke-width="0.8"/>
<line x1="443.00" y1="361.20" x2="443.00" y2="363.00" stroke="#1e1e1e" stroke-width="0.8"/>
<line x1="446.00" y1="361.20" x2="446.00" y2="363.00" stroke="#1e1e1e" stroke-width="0.8"/>
<line x1="449.00" y1="361.20" x2="449.00" y2="363.00" stroke="#1e1e1e" stroke-width="0.8"/>
<line x1="456.00" y1="361.20" x2="456.00" y2="363.00" stroke="#1e1e1e" stroke-width="0.8"/>
<line x1="459.00" y1="361.20" x2="459.00" y2="363.00" stroke="#1e1e1e" stroke-width="0.8"/>
<line x1="462.00" y1="361.20" x2="462.00" y2="363.00" stroke="#1e1e1e" stroke-width="0.8"/>
<line x1="466.00" y1="361.20" x2="466.00" y2="363.00" stroke="#1e1e1e" stroke-width="0.8"/>
<line x1="478.00" y1="361.20" x2="478.00" y2="363.00" stroke="#1e1e1e" stroke-width="0.8"/>
<line x1="481.00" y1="361.20" x2="481.00" y2="363.00" stroke="#1e1e1e" stroke-width="0.8"/>
<line x1="483.00" y1="361.20" x2="483.00" y2="363.00" stroke="#1e1e1e" stroke-width="0.8"/>
<line x1="490.00" y1="361.20" x2="490.00" y2="363.00" stroke="#1e1e1e" stroke-width="0.8"/>
<line x1="494.00" y1="361.20" x2="494.00" y2="363.00" stroke="#1e1e1e" stroke-width="0.8"/>
<line x1="498.00" y1="361.20" x2="498.00" y2="363.00" stroke="#1e1e1e" stroke-width="0.8"/>
<line x1="502.00" y1="361.20" x2="502.00" y2="363.00" stroke="#1e1e1e" stroke-width="0.8"/>
<rect x="435.60" y="285.00" width="76.40" height="76.20" fill="none" stroke="#1e1e1e" stroke-width="1"/>
<line x1="435.60" y1="284.50" x2="435.60" y2="362.00" stroke="#1e1e1e" stroke-width="2.0"/>
<line x1="434.80" y1="361.20" x2="512.50" y2="361.20" stroke="#1e1e1e" stroke-width="1.8"/>
<text x="0" y="0" transform="translate(429.80,287.80) scale(1,1.18)" font-size="6.2" stroke="#1e1e1e" stroke-width="0.2" text-anchor="end">10<tspan font-size="4.4" dy="-2.7">6</tspan></text>
<text x="0" y="0" transform="translate(429.80,300.40) scale(1,1.18)" font-size="6.2" stroke="#1e1e1e" stroke-width="0.2" text-anchor="end">10<tspan font-size="4.4" dy="-2.7">5</tspan></text>
<text x="0" y="0" transform="translate(429.80,314.00) scale(1,1.18)" font-size="6.2" stroke="#1e1e1e" stroke-width="0.2" text-anchor="end">10<tspan font-size="4.4" dy="-2.7">4</tspan></text>
<text x="0" y="0" transform="translate(429.80,328.40) scale(1,1.18)" font-size="6.2" stroke="#1e1e1e" stroke-width="0.2" text-anchor="end">10<tspan font-size="4.4" dy="-2.7">3</tspan></text>
<text x="0" y="0" transform="translate(429.80,344.40) scale(1,1.18)" font-size="6.2" stroke="#1e1e1e" stroke-width="0.2" text-anchor="end">0</text>
<text x="0" y="0" transform="translate(429.80,360.80) scale(1,1.18)" font-size="6.2" stroke="#1e1e1e" stroke-width="0.2" text-anchor="end">−10<tspan font-size="4.4" dy="-2.7">3</tspan></text>
<text x="0" y="0" transform="translate(453.50,373.00) scale(1,1.18)" font-size="6.2" stroke="#1e1e1e" stroke-width="0.2" text-anchor="middle">0</text>
<text x="0" y="0" transform="translate(475.30,373.00) scale(1,1.18)" font-size="6.2" stroke="#1e1e1e" stroke-width="0.2" text-anchor="middle">10<tspan font-size="4.4" dy="-2.7">3</tspan></text>
<text x="0" y="0" transform="translate(486.80,373.00) scale(1,1.18)" font-size="6.2" stroke="#1e1e1e" stroke-width="0.2" text-anchor="middle">10<tspan font-size="4.4" dy="-2.7">4</tspan></text>
<text x="0" y="0" transform="translate(508.00,373.00) scale(1,1.18)" font-size="6.2" stroke="#1e1e1e" stroke-width="0.2" text-anchor="middle">10<tspan font-size="4.4" dy="-2.7">5</tspan></text>
<text x="439.60" y="279.90" font-size="10.4" stroke="#1e1e1e" stroke-width="0.05" font-style="italic" textLength="30.4" lengthAdjust="spacingAndGlyphs">Exosc3</text>
<text x="470.50" y="276.00" font-size="7.4" stroke="#1e1e1e" stroke-width="0.05" textLength="14.2" lengthAdjust="spacingAndGlyphs">C/C</text>
<text x="487.80" y="279.90" font-size="10.4" stroke="#1e1e1e" stroke-width="0.05" textLength="15.2" lengthAdjust="spacingAndGlyphs">Cre</text>
<text x="504.40" y="276.50" font-size="7.6" stroke="#1e1e1e" stroke-width="0.05">+</text>
<text x="0" y="0" font-size="9.6" text-anchor="middle" transform="translate(414.20,296.30) rotate(-90)" stroke="#1e1e1e" stroke-width="0.5" textLength="21" lengthAdjust="spacingAndGlyphs">DRAQ7</text>
<line x1="412.00" y1="314.00" x2="412.00" y2="383.50" stroke="#1e1e1e" stroke-width="1.2"/>
<line x1="411.50" y1="383.00" x2="490.20" y2="383.00" stroke="#1e1e1e" stroke-width="1.2"/>
<text x="496.00" y="386.40" font-size="10.0" stroke="#1e1e1e" stroke-width="0.45" textLength="14.6" lengthAdjust="spacingAndGlyphs">AnnV</text>
<text x="88.00" y="414.60" font-size="9.4" stroke="#1e1e1e" stroke-width="0.06" text-anchor="middle" textLength="16.6" lengthAdjust="spacingAndGlyphs">Live</text>
<line x1="45.60" y1="440.40" x2="45.60" y2="528.00" stroke="#1e1e1e" stroke-width="1.2"/>
<line x1="42.40" y1="528.00" x2="45.60" y2="528.00" stroke="#1e1e1e" stroke-width="1.2"/>
<text x="0" y="0" transform="translate(38.60,530.48) scale(1,0.86)" font-size="8.0" stroke="#1e1e1e" stroke-width="0.22" text-anchor="end">0</text>
<line x1="42.40" y1="510.92" x2="45.60" y2="510.92" stroke="#1e1e1e" stroke-width="1.2"/>
<text x="0" y="0" transform="translate(38.60,513.40) scale(1,0.86)" font-size="8.0" stroke="#1e1e1e" stroke-width="0.22" text-anchor="end">20</text>
<line x1="42.40" y1="493.84" x2="45.60" y2="493.84" stroke="#1e1e1e" stroke-width="1.2"/>
<text x="0" y="0" transform="translate(38.60,496.32) scale(1,0.86)" font-size="8.0" stroke="#1e1e1e" stroke-width="0.22" text-anchor="end">40</text>
<line x1="42.40" y1="476.76" x2="45.60" y2="476.76" stroke="#1e1e1e" stroke-width="1.2"/>
<text x="0" y="0" transform="translate(38.60,479.24) scale(1,0.86)" font-size="8.0" stroke="#1e1e1e" stroke-width="0.22" text-anchor="end">60</text>
<line x1="42.40" y1="459.68" x2="45.60" y2="459.68" stroke="#1e1e1e" stroke-width="1.2"/>
<text x="0" y="0" transform="translate(38.60,462.16) scale(1,0.86)" font-size="8.0" stroke="#1e1e1e" stroke-width="0.22" text-anchor="end">80</text>
<line x1="42.40" y1="442.60" x2="45.60" y2="442.60" stroke="#1e1e1e" stroke-width="1.2"/>
<text x="0" y="0" transform="translate(38.60,445.08) scale(1,0.86)" font-size="8.0" stroke="#1e1e1e" stroke-width="0.22" text-anchor="end">100</text>
<line x1="43.80" y1="519.46" x2="45.60" y2="519.46" stroke="#1e1e1e" stroke-width="1.0"/>
<line x1="43.80" y1="502.38" x2="45.60" y2="502.38" stroke="#1e1e1e" stroke-width="1.0"/>
<line x1="43.80" y1="485.30" x2="45.60" y2="485.30" stroke="#1e1e1e" stroke-width="1.0"/>
<line x1="43.80" y1="468.22" x2="45.60" y2="468.22" stroke="#1e1e1e" stroke-width="1.0"/>
<line x1="43.80" y1="451.14" x2="45.60" y2="451.14" stroke="#1e1e1e" stroke-width="1.0"/>
<line x1="45.00" y1="528.00" x2="130.00" y2="528.00" stroke="#1e1e1e" stroke-width="1.3"/>
<line x1="58.40" y1="451.00" x2="58.40" y2="461.00" stroke="#3c3c3c" stroke-width="1.0"/>
<line x1="55.60" y1="451.00" x2="61.20" y2="451.00" stroke="#3c3c3c" stroke-width="1.0"/>
<line x1="55.60" y1="461.00" x2="61.20" y2="461.00" stroke="#3c3c3c" stroke-width="1.0"/>
<rect x="52.80" y="453.60" width="11.20" height="4.80" fill="#5e2170" stroke="#2e0b3a" stroke-width="0.5"/>
<line x1="52.80" y1="456.00" x2="64.00" y2="456.00" stroke="#2e0b3a" stroke-width="1.2"/>
<line x1="78.00" y1="450.40" x2="78.00" y2="458.00" stroke="#3c3c3c" stroke-width="1.0"/>
<line x1="75.20" y1="450.40" x2="80.80" y2="450.40" stroke="#3c3c3c" stroke-width="1.0"/>
<line x1="75.20" y1="458.00" x2="80.80" y2="458.00" stroke="#3c3c3c" stroke-width="1.0"/>
<rect x="72.40" y="451.40" width="11.20" height="6.20" fill="#3bb23e" stroke="#145a18" stroke-width="0.5"/>
<line x1="72.40" y1="455.50" x2="83.60" y2="455.50" stroke="#145a18" stroke-width="1.2"/>
<line x1="97.80" y1="449.40" x2="97.80" y2="457.00" stroke="#3c3c3c" stroke-width="1.0"/>
<line x1="95.00" y1="449.40" x2="100.60" y2="449.40" stroke="#3c3c3c" stroke-width="1.0"/>
<line x1="95.00" y1="457.00" x2="100.60" y2="457.00" stroke="#3c3c3c" stroke-width="1.0"/>
<rect x="92.20" y="451.00" width="11.20" height="4.00" fill="#d80f30" stroke="#6a0616" stroke-width="0.5"/>
<line x1="92.20" y1="453.00" x2="103.40" y2="453.00" stroke="#6a0616" stroke-width="1.2"/>
<line x1="117.30" y1="451.60" x2="117.30" y2="474.00" stroke="#3c3c3c" stroke-width="1.0"/>
<line x1="114.50" y1="451.60" x2="120.10" y2="451.60" stroke="#3c3c3c" stroke-width="1.0"/>
<line x1="114.50" y1="474.00" x2="120.10" y2="474.00" stroke="#3c3c3c" stroke-width="1.0"/>
<rect x="111.70" y="461.00" width="11.20" height="13.00" fill="#134f8f" stroke="#06264a" stroke-width="0.5"/>
<line x1="111.70" y1="473.00" x2="122.90" y2="473.00" stroke="#06264a" stroke-width="1.2"/>
<line x1="60.20" y1="427.50" x2="119.20" y2="427.50" stroke="#2a2a2a" stroke-width="1.1"/>
<text x="87.59" y="427.18" font-size="8.0" stroke="#1e1e1e" stroke-width="0.55" text-anchor="middle">*</text>
<text x="91.81" y="427.18" font-size="8.0" stroke="#1e1e1e" stroke-width="0.55" text-anchor="middle">*</text>
<line x1="79.60" y1="437.50" x2="119.20" y2="437.50" stroke="#2a2a2a" stroke-width="1.1"/>
<text x="97.29" y="437.18" font-size="8.0" stroke="#1e1e1e" stroke-width="0.55" text-anchor="middle">*</text>
<text x="101.51" y="437.18" font-size="8.0" stroke="#1e1e1e" stroke-width="0.55" text-anchor="middle">*</text>
<line x1="97.40" y1="445.50" x2="119.40" y2="445.50" stroke="#2a2a2a" stroke-width="1.1"/>
<text x="104.19" y="445.18" font-size="8.0" stroke="#1e1e1e" stroke-width="0.55" text-anchor="middle">*</text>
<text x="108.40" y="445.18" font-size="8.0" stroke="#1e1e1e" stroke-width="0.55" text-anchor="middle">*</text>
<text x="112.61" y="445.18" font-size="8.0" stroke="#1e1e1e" stroke-width="0.55" text-anchor="middle">*</text>
<text x="0" y="0" font-size="9.4" text-anchor="middle" transform="translate(18.80,484.00) rotate(-90)" stroke="#1e1e1e" stroke-width="0.45" textLength="66.6" lengthAdjust="spacingAndGlyphs">% of Lin<tspan font-size="5" dy="-3">–</tspan><tspan dy="3"> KIT</tspan><tspan font-size="5" dy="-3">+</tspan><tspan dy="3"> BFU-E</tspan></text>
<text x="0" y="0" transform="translate(45.60,543.00) scale(1,0.98)" font-size="8.4" stroke="#1e1e1e" stroke-width="0.22" text-anchor="end" font-style="italic">Exosc3</text>
<text x="0" y="0" transform="translate(45.60,552.40) scale(1,0.98)" font-size="8.4" stroke="#1e1e1e" stroke-width="0.22" text-anchor="end">Cre</text>
<text x="0" y="0" transform="translate(58.40,543.00) scale(1,0.98)" font-size="8.4" stroke="#1e1e1e" stroke-width="0.22" text-anchor="middle">C/wt</text>
<text x="0" y="0" transform="translate(58.40,552.00) scale(1,0.98)" font-size="8.4" stroke="#1e1e1e" stroke-width="0.22" text-anchor="middle">–</text>
<text x="0" y="0" transform="translate(78.00,543.00) scale(1,0.98)" font-size="8.4" stroke="#1e1e1e" stroke-width="0.22" text-anchor="middle">C/wt</text>
<text x="0" y="0" transform="translate(78.00,552.80) scale(1,0.98)" font-size="8.4" stroke="#1e1e1e" stroke-width="0.22" text-anchor="middle">+</text>
<text x="0" y="0" transform="translate(97.80,543.00) scale(1,0.98)" font-size="8.4" stroke="#1e1e1e" stroke-width="0.22" text-anchor="middle">C/C</text>
<text x="0" y="0" transform="translate(97.80,552.00) scale(1,0.98)" font-size="8.4" stroke="#1e1e1e" stroke-width="0.22" text-anchor="middle">–</text>
<text x="0" y="0" transform="translate(117.30,543.00) scale(1,0.98)" font-size="8.4" stroke="#1e1e1e" stroke-width="0.22" text-anchor="middle">C/C</text>
<text x="0" y="0" transform="translate(117.30,552.80) scale(1,0.98)" font-size="8.4" stroke="#1e1e1e" stroke-width="0.22" text-anchor="middle">+</text>
<text x="215.30" y="414.60" font-size="9.4" stroke="#1e1e1e" stroke-width="0.06" text-anchor="middle" textLength="20.6" lengthAdjust="spacingAndGlyphs">Early</text>
<line x1="172.40" y1="439.80" x2="172.40" y2="528.00" stroke="#1e1e1e" stroke-width="1.2"/>
<line x1="169.20" y1="528.00" x2="172.40" y2="528.00" stroke="#1e1e1e" stroke-width="1.2"/>
<text x="0" y="0" transform="translate(166.60,530.48) scale(1,0.86)" font-size="8.0" stroke="#1e1e1e" stroke-width="0.22" text-anchor="end">0</text>
<line x1="169.20" y1="506.50" x2="172.40" y2="506.50" stroke="#1e1e1e" stroke-width="1.2"/>
<text x="0" y="0" transform="translate(166.60,508.98) scale(1,0.86)" font-size="8.0" stroke="#1e1e1e" stroke-width="0.22" text-anchor="end">1</text>
<line x1="169.20" y1="485.00" x2="172.40" y2="485.00" stroke="#1e1e1e" stroke-width="1.2"/>
<text x="0" y="0" transform="translate(166.60,487.48) scale(1,0.86)" font-size="8.0" stroke="#1e1e1e" stroke-width="0.22" text-anchor="end">2</text>
<line x1="169.20" y1="463.50" x2="172.40" y2="463.50" stroke="#1e1e1e" stroke-width="1.2"/>
<text x="0" y="0" transform="translate(166.60,465.98) scale(1,0.86)" font-size="8.0" stroke="#1e1e1e" stroke-width="0.22" text-anchor="end">3</text>
<line x1="169.20" y1="442.00" x2="172.40" y2="442.00" stroke="#1e1e1e" stroke-width="1.2"/>
<text x="0" y="0" transform="translate(166.60,444.48) scale(1,0.86)" font-size="8.0" stroke="#1e1e1e" stroke-width="0.22" text-anchor="end">4</text>
<line x1="170.60" y1="517.25" x2="172.40" y2="517.25" stroke="#1e1e1e" stroke-width="1.0"/>
<line x1="170.60" y1="495.75" x2="172.40" y2="495.75" stroke="#1e1e1e" stroke-width="1.0"/>
<line x1="170.60" y1="474.25" x2="172.40" y2="474.25" stroke="#1e1e1e" stroke-width="1.0"/>
<line x1="170.60" y1="452.75" x2="172.40" y2="452.75" stroke="#1e1e1e" stroke-width="1.0"/>
<line x1="171.80" y1="528.00" x2="257.00" y2="528.00" stroke="#1e1e1e" stroke-width="1.3"/>
<line x1="185.80" y1="468.40" x2="185.80" y2="490.40" stroke="#3c3c3c" stroke-width="1.0"/>
<line x1="183.00" y1="468.40" x2="188.60" y2="468.40" stroke="#3c3c3c" stroke-width="1.0"/>
<line x1="183.00" y1="490.40" x2="188.60" y2="490.40" stroke="#3c3c3c" stroke-width="1.0"/>
<rect x="180.20" y="473.00" width="11.20" height="8.00" fill="#5e2170" stroke="#2e0b3a" stroke-width="0.5"/>
<line x1="180.20" y1="477.00" x2="191.40" y2="477.00" stroke="#2e0b3a" stroke-width="1.2"/>
<line x1="205.70" y1="475.00" x2="205.70" y2="501.00" stroke="#3c3c3c" stroke-width="1.0"/>
<line x1="202.90" y1="475.00" x2="208.50" y2="475.00" stroke="#3c3c3c" stroke-width="1.0"/>
<line x1="202.90" y1="501.00" x2="208.50" y2="501.00" stroke="#3c3c3c" stroke-width="1.0"/>
<rect x="200.10" y="483.00" width="11.20" height="16.00" fill="#3bb23e" stroke="#145a18" stroke-width="0.5"/>
<line x1="200.10" y1="491.40" x2="211.30" y2="491.40" stroke="#145a18" stroke-width="1.2"/>
<line x1="225.20" y1="453.40" x2="225.20" y2="481.00" stroke="#3c3c3c" stroke-width="1.0"/>
<line x1="222.40" y1="453.40" x2="228.00" y2="453.40" stroke="#3c3c3c" stroke-width="1.0"/>
<line x1="222.40" y1="481.00" x2="228.00" y2="481.00" stroke="#3c3c3c" stroke-width="1.0"/>
<rect x="219.60" y="466.00" width="11.20" height="10.40" fill="#d80f30" stroke="#6a0616" stroke-width="0.5"/>
<line x1="219.60" y1="473.00" x2="230.80" y2="473.00" stroke="#6a0616" stroke-width="1.2"/>
<line x1="244.80" y1="477.40" x2="244.80" y2="503.40" stroke="#3c3c3c" stroke-width="1.0"/>
<line x1="242.00" y1="477.40" x2="247.60" y2="477.40" stroke="#3c3c3c" stroke-width="1.0"/>
<line x1="242.00" y1="503.40" x2="247.60" y2="503.40" stroke="#3c3c3c" stroke-width="1.0"/>
<rect x="239.20" y="481.00" width="11.20" height="16.00" fill="#134f8f" stroke="#06264a" stroke-width="0.5"/>
<line x1="239.20" y1="491.40" x2="250.40" y2="491.40" stroke="#06264a" stroke-width="1.2"/>
<line x1="206.40" y1="441.50" x2="246.60" y2="441.50" stroke="#2a2a2a" stroke-width="1.1"/>
<text x="224.39" y="441.18" font-size="8.0" stroke="#1e1e1e" stroke-width="0.55" text-anchor="middle">*</text>
<text x="228.61" y="441.18" font-size="8.0" stroke="#1e1e1e" stroke-width="0.55" text-anchor="middle">*</text>
<line x1="225.00" y1="450.50" x2="246.60" y2="450.50" stroke="#2a2a2a" stroke-width="1.1"/>
<text x="233.69" y="450.18" font-size="8.0" stroke="#1e1e1e" stroke-width="0.55" text-anchor="middle">*</text>
<text x="237.91" y="450.18" font-size="8.0" stroke="#1e1e1e" stroke-width="0.55" text-anchor="middle">*</text>
<text x="0" y="0" font-size="9.4" text-anchor="middle" transform="translate(155.80,484.00) rotate(-90)" stroke="#1e1e1e" stroke-width="0.45" textLength="66.6" lengthAdjust="spacingAndGlyphs">% of Lin<tspan font-size="5" dy="-3">–</tspan><tspan dy="3"> KIT</tspan><tspan font-size="5" dy="-3">+</tspan><tspan dy="3"> BFU-E</tspan></text>
<text x="0" y="0" transform="translate(172.40,543.00) scale(1,0.98)" font-size="8.4" stroke="#1e1e1e" stroke-width="0.22" text-anchor="end" font-style="italic">Exosc3</text>
<text x="0" y="0" transform="translate(172.40,552.40) scale(1,0.98)" font-size="8.4" stroke="#1e1e1e" stroke-width="0.22" text-anchor="end">Cre</text>
<text x="0" y="0" transform="translate(185.80,543.00) scale(1,0.98)" font-size="8.4" stroke="#1e1e1e" stroke-width="0.22" text-anchor="middle">C/wt</text>
<text x="0" y="0" transform="translate(185.80,552.00) scale(1,0.98)" font-size="8.4" stroke="#1e1e1e" stroke-width="0.22" text-anchor="middle">–</text>
<text x="0" y="0" transform="translate(205.70,543.00) scale(1,0.98)" font-size="8.4" stroke="#1e1e1e" stroke-width="0.22" text-anchor="middle">C/wt</text>
<text x="0" y="0" transform="translate(205.70,552.80) scale(1,0.98)" font-size="8.4" stroke="#1e1e1e" stroke-width="0.22" text-anchor="middle">+</text>
<text x="0" y="0" transform="translate(225.20,543.00) scale(1,0.98)" font-size="8.4" stroke="#1e1e1e" stroke-width="0.22" text-anchor="middle">C/C</text>
<text x="0" y="0" transform="translate(225.20,552.00) scale(1,0.98)" font-size="8.4" stroke="#1e1e1e" stroke-width="0.22" text-anchor="middle">–</text>
<text x="0" y="0" transform="translate(244.80,543.00) scale(1,0.98)" font-size="8.4" stroke="#1e1e1e" stroke-width="0.22" text-anchor="middle">C/C</text>
<text x="0" y="0" transform="translate(244.80,552.80) scale(1,0.98)" font-size="8.4" stroke="#1e1e1e" stroke-width="0.22" text-anchor="middle">+</text>
<text x="344.30" y="414.60" font-size="9.4" stroke="#1e1e1e" stroke-width="0.06" text-anchor="middle" textLength="41.4" lengthAdjust="spacingAndGlyphs">Apoptotic</text>
<line x1="301.40" y1="440.80" x2="301.40" y2="528.00" stroke="#1e1e1e" stroke-width="1.2"/>
<line x1="298.20" y1="528.00" x2="301.40" y2="528.00" stroke="#1e1e1e" stroke-width="1.2"/>
<text x="0" y="0" transform="translate(296.60,530.48) scale(1,0.86)" font-size="8.0" stroke="#1e1e1e" stroke-width="0.22" text-anchor="end">0</text>
<line x1="298.20" y1="506.75" x2="301.40" y2="506.75" stroke="#1e1e1e" stroke-width="1.2"/>
<text x="0" y="0" transform="translate(296.60,509.23) scale(1,0.86)" font-size="8.0" stroke="#1e1e1e" stroke-width="0.22" text-anchor="end">5</text>
<line x1="298.20" y1="485.50" x2="301.40" y2="485.50" stroke="#1e1e1e" stroke-width="1.2"/>
<text x="0" y="0" transform="translate(296.60,487.98) scale(1,0.86)" font-size="8.0" stroke="#1e1e1e" stroke-width="0.22" text-anchor="end">10</text>
<line x1="298.20" y1="464.25" x2="301.40" y2="464.25" stroke="#1e1e1e" stroke-width="1.2"/>
<text x="0" y="0" transform="translate(296.60,466.73) scale(1,0.86)" font-size="8.0" stroke="#1e1e1e" stroke-width="0.22" text-anchor="end">15</text>
<line x1="298.20" y1="443.00" x2="301.40" y2="443.00" stroke="#1e1e1e" stroke-width="1.2"/>
<text x="0" y="0" transform="translate(296.60,445.48) scale(1,0.86)" font-size="8.0" stroke="#1e1e1e" stroke-width="0.22" text-anchor="end">20</text>
<line x1="299.60" y1="517.38" x2="301.40" y2="517.38" stroke="#1e1e1e" stroke-width="1.0"/>
<line x1="299.60" y1="496.12" x2="301.40" y2="496.12" stroke="#1e1e1e" stroke-width="1.0"/>
<line x1="299.60" y1="474.88" x2="301.40" y2="474.88" stroke="#1e1e1e" stroke-width="1.0"/>
<line x1="299.60" y1="453.62" x2="301.40" y2="453.62" stroke="#1e1e1e" stroke-width="1.0"/>
<line x1="300.80" y1="528.00" x2="387.00" y2="528.00" stroke="#1e1e1e" stroke-width="1.3"/>
<line x1="314.70" y1="495.00" x2="314.70" y2="520.60" stroke="#3c3c3c" stroke-width="1.0"/>
<line x1="311.90" y1="495.00" x2="317.50" y2="495.00" stroke="#3c3c3c" stroke-width="1.0"/>
<line x1="311.90" y1="520.60" x2="317.50" y2="520.60" stroke="#3c3c3c" stroke-width="1.0"/>
<rect x="309.10" y="500.60" width="11.20" height="12.40" fill="#5e2170" stroke="#2e0b3a" stroke-width="0.5"/>
<line x1="309.10" y1="503.00" x2="320.30" y2="503.00" stroke="#2e0b3a" stroke-width="1.2"/>
<line x1="334.30" y1="496.60" x2="334.30" y2="517.00" stroke="#3c3c3c" stroke-width="1.0"/>
<line x1="331.50" y1="496.60" x2="337.10" y2="496.60" stroke="#3c3c3c" stroke-width="1.0"/>
<line x1="331.50" y1="517.00" x2="337.10" y2="517.00" stroke="#3c3c3c" stroke-width="1.0"/>
<rect x="328.70" y="498.00" width="11.20" height="16.00" fill="#3bb23e" stroke="#145a18" stroke-width="0.5"/>
<line x1="328.70" y1="502.00" x2="339.90" y2="502.00" stroke="#145a18" stroke-width="1.2"/>
<line x1="353.80" y1="499.00" x2="353.80" y2="522.40" stroke="#3c3c3c" stroke-width="1.0"/>
<line x1="351.00" y1="499.00" x2="356.60" y2="499.00" stroke="#3c3c3c" stroke-width="1.0"/>
<line x1="351.00" y1="522.40" x2="356.60" y2="522.40" stroke="#3c3c3c" stroke-width="1.0"/>
<rect x="348.20" y="501.60" width="11.20" height="18.80" fill="#d80f30" stroke="#6a0616" stroke-width="0.5"/>
<line x1="348.20" y1="514.40" x2="359.40" y2="514.40" stroke="#6a0616" stroke-width="1.2"/>
<line x1="373.50" y1="465.40" x2="373.50" y2="519.60" stroke="#3c3c3c" stroke-width="1.0"/>
<line x1="370.70" y1="465.40" x2="376.30" y2="465.40" stroke="#3c3c3c" stroke-width="1.0"/>
<line x1="370.70" y1="519.60" x2="376.30" y2="519.60" stroke="#3c3c3c" stroke-width="1.0"/>
<rect x="367.90" y="471.00" width="11.20" height="26.00" fill="#134f8f" stroke="#06264a" stroke-width="0.5"/>
<line x1="367.90" y1="472.40" x2="379.10" y2="472.40" stroke="#06264a" stroke-width="1.2"/>
<line x1="314.80" y1="443.50" x2="373.50" y2="443.50" stroke="#2a2a2a" stroke-width="1.1"/>
<text x="344.15" y="443.18" font-size="8.0" stroke="#1e1e1e" stroke-width="0.55" text-anchor="middle">*</text>
<line x1="333.60" y1="451.50" x2="373.50" y2="451.50" stroke="#2a2a2a" stroke-width="1.1"/>
<text x="353.55" y="451.18" font-size="8.0" stroke="#1e1e1e" stroke-width="0.55" text-anchor="middle">*</text>
<line x1="352.00" y1="459.50" x2="373.50" y2="459.50" stroke="#2a2a2a" stroke-width="1.1"/>
<text x="360.64" y="459.18" font-size="8.0" stroke="#1e1e1e" stroke-width="0.55" text-anchor="middle">*</text>
<text x="364.86" y="459.18" font-size="8.0" stroke="#1e1e1e" stroke-width="0.55" text-anchor="middle">*</text>
<text x="0" y="0" font-size="9.4" text-anchor="middle" transform="translate(279.00,484.00) rotate(-90)" stroke="#1e1e1e" stroke-width="0.45" textLength="66.6" lengthAdjust="spacingAndGlyphs">% of Lin<tspan font-size="5" dy="-3">–</tspan><tspan dy="3"> KIT</tspan><tspan font-size="5" dy="-3">+</tspan><tspan dy="3"> BFU-E</tspan></text>
<text x="0" y="0" transform="translate(301.40,543.00) scale(1,0.98)" font-size="8.4" stroke="#1e1e1e" stroke-width="0.22" text-anchor="end" font-style="italic">Exosc3</text>
<text x="0" y="0" transform="translate(301.40,552.40) scale(1,0.98)" font-size="8.4" stroke="#1e1e1e" stroke-width="0.22" text-anchor="end">Cre</text>
<text x="0" y="0" transform="translate(314.70,543.00) scale(1,0.98)" font-size="8.4" stroke="#1e1e1e" stroke-width="0.22" text-anchor="middle">C/wt</text>
<text x="0" y="0" transform="translate(314.70,552.00) scale(1,0.98)" font-size="8.4" stroke="#1e1e1e" stroke-width="0.22" text-anchor="middle">–</text>
<text x="0" y="0" transform="translate(334.30,543.00) scale(1,0.98)" font-size="8.4" stroke="#1e1e1e" stroke-width="0.22" text-anchor="middle">C/wt</text>
<text x="0" y="0" transform="translate(334.30,552.80) scale(1,0.98)" font-size="8.4" stroke="#1e1e1e" stroke-width="0.22" text-anchor="middle">+</text>
<text x="0" y="0" transform="translate(353.80,543.00) scale(1,0.98)" font-size="8.4" stroke="#1e1e1e" stroke-width="0.22" text-anchor="middle">C/C</text>
<text x="0" y="0" transform="translate(353.80,552.00) scale(1,0.98)" font-size="8.4" stroke="#1e1e1e" stroke-width="0.22" text-anchor="middle">–</text>
<text x="0" y="0" transform="translate(373.50,543.00) scale(1,0.98)" font-size="8.4" stroke="#1e1e1e" stroke-width="0.22" text-anchor="middle">C/C</text>
<text x="0" y="0" transform="translate(373.50,552.80) scale(1,0.98)" font-size="8.4" stroke="#1e1e1e" stroke-width="0.22" text-anchor="middle">+</text>
<text x="477.70" y="414.60" font-size="9.4" stroke="#1e1e1e" stroke-width="0.06" text-anchor="middle" textLength="22.6" lengthAdjust="spacingAndGlyphs">Dead</text>
<line x1="435.20" y1="440.80" x2="435.20" y2="528.00" stroke="#1e1e1e" stroke-width="1.2"/>
<line x1="432.00" y1="528.00" x2="435.20" y2="528.00" stroke="#1e1e1e" stroke-width="1.2"/>
<text x="0" y="0" transform="translate(430.20,530.48) scale(1,0.86)" font-size="8.0" stroke="#1e1e1e" stroke-width="0.22" text-anchor="end">0</text>
<line x1="432.00" y1="511.00" x2="435.20" y2="511.00" stroke="#1e1e1e" stroke-width="1.2"/>
<text x="0" y="0" transform="translate(430.20,513.48) scale(1,0.86)" font-size="8.0" stroke="#1e1e1e" stroke-width="0.22" text-anchor="end">5</text>
<line x1="432.00" y1="494.00" x2="435.20" y2="494.00" stroke="#1e1e1e" stroke-width="1.2"/>
<text x="0" y="0" transform="translate(430.20,496.48) scale(1,0.86)" font-size="8.0" stroke="#1e1e1e" stroke-width="0.22" text-anchor="end">10</text>
<line x1="432.00" y1="477.00" x2="435.20" y2="477.00" stroke="#1e1e1e" stroke-width="1.2"/>
<text x="0" y="0" transform="translate(430.20,479.48) scale(1,0.86)" font-size="8.0" stroke="#1e1e1e" stroke-width="0.22" text-anchor="end">15</text>
<line x1="432.00" y1="460.00" x2="435.20" y2="460.00" stroke="#1e1e1e" stroke-width="1.2"/>
<text x="0" y="0" transform="translate(430.20,462.48) scale(1,0.86)" font-size="8.0" stroke="#1e1e1e" stroke-width="0.22" text-anchor="end">20</text>
<line x1="432.00" y1="443.00" x2="435.20" y2="443.00" stroke="#1e1e1e" stroke-width="1.2"/>
<text x="0" y="0" transform="translate(430.20,445.48) scale(1,0.86)" font-size="8.0" stroke="#1e1e1e" stroke-width="0.22" text-anchor="end">25</text>
<line x1="433.40" y1="519.50" x2="435.20" y2="519.50" stroke="#1e1e1e" stroke-width="1.0"/>
<line x1="433.40" y1="502.50" x2="435.20" y2="502.50" stroke="#1e1e1e" stroke-width="1.0"/>
<line x1="433.40" y1="485.50" x2="435.20" y2="485.50" stroke="#1e1e1e" stroke-width="1.0"/>
<line x1="433.40" y1="468.50" x2="435.20" y2="468.50" stroke="#1e1e1e" stroke-width="1.0"/>
<line x1="433.40" y1="451.50" x2="435.20" y2="451.50" stroke="#1e1e1e" stroke-width="1.0"/>
<line x1="434.60" y1="528.00" x2="520.00" y2="528.00" stroke="#1e1e1e" stroke-width="1.3"/>
<line x1="448.50" y1="492.00" x2="448.50" y2="511.00" stroke="#3c3c3c" stroke-width="1.0"/>
<line x1="445.70" y1="492.00" x2="451.30" y2="492.00" stroke="#3c3c3c" stroke-width="1.0"/>
<line x1="445.70" y1="511.00" x2="451.30" y2="511.00" stroke="#3c3c3c" stroke-width="1.0"/>
<rect x="442.90" y="494.40" width="11.20" height="13.20" fill="#5e2170" stroke="#2e0b3a" stroke-width="0.5"/>
<line x1="442.90" y1="505.60" x2="454.10" y2="505.60" stroke="#2e0b3a" stroke-width="1.2"/>
<line x1="468.20" y1="494.00" x2="468.20" y2="513.40" stroke="#3c3c3c" stroke-width="1.0"/>
<line x1="465.40" y1="494.00" x2="471.00" y2="494.00" stroke="#3c3c3c" stroke-width="1.0"/>
<line x1="465.40" y1="513.40" x2="471.00" y2="513.40" stroke="#3c3c3c" stroke-width="1.0"/>
<rect x="462.60" y="497.40" width="11.20" height="14.20" fill="#3bb23e" stroke="#145a18" stroke-width="0.5"/>
<line x1="462.60" y1="504.40" x2="473.80" y2="504.40" stroke="#145a18" stroke-width="1.2"/>
<line x1="487.50" y1="503.60" x2="487.50" y2="513.00" stroke="#3c3c3c" stroke-width="1.0"/>
<line x1="484.70" y1="503.60" x2="490.30" y2="503.60" stroke="#3c3c3c" stroke-width="1.0"/>
<line x1="484.70" y1="513.00" x2="490.30" y2="513.00" stroke="#3c3c3c" stroke-width="1.0"/>
<rect x="481.90" y="508.00" width="11.20" height="3.40" fill="#d80f30" stroke="#6a0616" stroke-width="0.5"/>
<line x1="481.90" y1="509.60" x2="493.10" y2="509.60" stroke="#6a0616" stroke-width="1.2"/>
<line x1="507.30" y1="453.40" x2="507.30" y2="510.00" stroke="#3c3c3c" stroke-width="1.0"/>
<line x1="504.50" y1="453.40" x2="510.10" y2="453.40" stroke="#3c3c3c" stroke-width="1.0"/>
<line x1="504.50" y1="510.00" x2="510.10" y2="510.00" stroke="#3c3c3c" stroke-width="1.0"/>
<rect x="501.70" y="454.60" width="11.20" height="34.40" fill="#134f8f" stroke="#06264a" stroke-width="0.5"/>
<line x1="501.70" y1="459.00" x2="512.90" y2="459.00" stroke="#06264a" stroke-width="1.2"/>
<line x1="448.00" y1="427.50" x2="507.30" y2="427.50" stroke="#2a2a2a" stroke-width="1.1"/>
<text x="475.54" y="427.18" font-size="8.0" stroke="#1e1e1e" stroke-width="0.55" text-anchor="middle">*</text>
<text x="479.76" y="427.18" font-size="8.0" stroke="#1e1e1e" stroke-width="0.55" text-anchor="middle">*</text>
<line x1="467.00" y1="440.50" x2="507.30" y2="440.50" stroke="#2a2a2a" stroke-width="1.1"/>
<text x="482.94" y="440.18" font-size="8.0" stroke="#1e1e1e" stroke-width="0.55" text-anchor="middle">*</text>
<text x="487.15" y="440.18" font-size="8.0" stroke="#1e1e1e" stroke-width="0.55" text-anchor="middle">*</text>
<text x="491.36" y="440.18" font-size="8.0" stroke="#1e1e1e" stroke-width="0.55" text-anchor="middle">*</text>
<line x1="484.60" y1="450.50" x2="507.30" y2="450.50" stroke="#2a2a2a" stroke-width="1.1"/>
<text x="491.74" y="450.18" font-size="8.0" stroke="#1e1e1e" stroke-width="0.55" text-anchor="middle">*</text>
<text x="495.95" y="450.18" font-size="8.0" stroke="#1e1e1e" stroke-width="0.55" text-anchor="middle">*</text>
<text x="500.16" y="450.18" font-size="8.0" stroke="#1e1e1e" stroke-width="0.55" text-anchor="middle">*</text>
<text x="0" y="0" font-size="9.4" text-anchor="middle" transform="translate(413.40,484.00) rotate(-90)" stroke="#1e1e1e" stroke-width="0.45" textLength="66.6" lengthAdjust="spacingAndGlyphs">% of Lin<tspan font-size="5" dy="-3">–</tspan><tspan dy="3"> KIT</tspan><tspan font-size="5" dy="-3">+</tspan><tspan dy="3"> BFU-E</tspan></text>
<text x="0" y="0" transform="translate(435.20,543.00) scale(1,0.98)" font-size="8.4" stroke="#1e1e1e" stroke-width="0.22" text-anchor="end" font-style="italic">Exosc3</text>
<text x="0" y="0" transform="translate(435.20,552.40) scale(1,0.98)" font-size="8.4" stroke="#1e1e1e" stroke-width="0.22" text-anchor="end">Cre</text>
<text x="0" y="0" transform="translate(448.50,543.00) scale(1,0.98)" font-size="8.4" stroke="#1e1e1e" stroke-width="0.22" text-anchor="middle">C/wt</text>
<text x="0" y="0" transform="translate(448.50,552.00) scale(1,0.98)" font-size="8.4" stroke="#1e1e1e" stroke-width="0.22" text-anchor="middle">–</text>
<text x="0" y="0" transform="translate(468.20,543.00) scale(1,0.98)" font-size="8.4" stroke="#1e1e1e" stroke-width="0.22" text-anchor="middle">C/wt</text>
<text x="0" y="0" transform="translate(468.20,552.80) scale(1,0.98)" font-size="8.4" stroke="#1e1e1e" stroke-width="0.22" text-anchor="middle">+</text>
<text x="0" y="0" transform="translate(487.50,543.00) scale(1,0.98)" font-size="8.4" stroke="#1e1e1e" stroke-width="0.22" text-anchor="middle">C/C</text>
<text x="0" y="0" transform="translate(487.50,552.00) scale(1,0.98)" font-size="8.4" stroke="#1e1e1e" stroke-width="0.22" text-anchor="middle">–</text>
<text x="0" y="0" transform="translate(507.30,543.00) scale(1,0.98)" font-size="8.4" stroke="#1e1e1e" stroke-width="0.22" text-anchor="middle">C/C</text>
<text x="0" y="0" transform="translate(507.30,552.80) scale(1,0.98)" font-size="8.4" stroke="#1e1e1e" stroke-width="0.22" text-anchor="middle">+</text>
<text x="86.00" y="580.20" font-size="9.4" stroke="#1e1e1e" stroke-width="0.06" text-anchor="middle" textLength="16.6" lengthAdjust="spacingAndGlyphs">Live</text>
<line x1="44.60" y1="602.80" x2="44.60" y2="687.00" stroke="#1e1e1e" stroke-width="1.2"/>
<line x1="41.40" y1="687.00" x2="44.60" y2="687.00" stroke="#1e1e1e" stroke-width="1.2"/>
<text x="0" y="0" transform="translate(38.20,689.48) scale(1,0.86)" font-size="8.0" stroke="#1e1e1e" stroke-width="0.22" text-anchor="end">0</text>
<line x1="41.40" y1="670.60" x2="44.60" y2="670.60" stroke="#1e1e1e" stroke-width="1.2"/>
<text x="0" y="0" transform="translate(38.20,673.08) scale(1,0.86)" font-size="8.0" stroke="#1e1e1e" stroke-width="0.22" text-anchor="end">20</text>
<line x1="41.40" y1="654.20" x2="44.60" y2="654.20" stroke="#1e1e1e" stroke-width="1.2"/>
<text x="0" y="0" transform="translate(38.20,656.68) scale(1,0.86)" font-size="8.0" stroke="#1e1e1e" stroke-width="0.22" text-anchor="end">40</text>
<line x1="41.40" y1="637.80" x2="44.60" y2="637.80" stroke="#1e1e1e" stroke-width="1.2"/>
<text x="0" y="0" transform="translate(38.20,640.28) scale(1,0.86)" font-size="8.0" stroke="#1e1e1e" stroke-width="0.22" text-anchor="end">60</text>
<line x1="41.40" y1="621.40" x2="44.60" y2="621.40" stroke="#1e1e1e" stroke-width="1.2"/>
<text x="0" y="0" transform="translate(38.20,623.88) scale(1,0.86)" font-size="8.0" stroke="#1e1e1e" stroke-width="0.22" text-anchor="end">80</text>
<line x1="41.40" y1="605.00" x2="44.60" y2="605.00" stroke="#1e1e1e" stroke-width="1.2"/>
<text x="0" y="0" transform="translate(38.20,607.48) scale(1,0.86)" font-size="8.0" stroke="#1e1e1e" stroke-width="0.22" text-anchor="end">100</text>
<line x1="42.80" y1="678.80" x2="44.60" y2="678.80" stroke="#1e1e1e" stroke-width="1.0"/>
<line x1="42.80" y1="662.40" x2="44.60" y2="662.40" stroke="#1e1e1e" stroke-width="1.0"/>
<line x1="42.80" y1="646.00" x2="44.60" y2="646.00" stroke="#1e1e1e" stroke-width="1.0"/>
<line x1="42.80" y1="629.60" x2="44.60" y2="629.60" stroke="#1e1e1e" stroke-width="1.0"/>
<line x1="42.80" y1="613.20" x2="44.60" y2="613.20" stroke="#1e1e1e" stroke-width="1.0"/>
<line x1="44.00" y1="687.00" x2="127.00" y2="687.00" stroke="#1e1e1e" stroke-width="1.3"/>
<line x1="57.80" y1="612.00" x2="57.80" y2="620.20" stroke="#3c3c3c" stroke-width="1.0"/>
<line x1="55.00" y1="612.00" x2="60.60" y2="612.00" stroke="#3c3c3c" stroke-width="1.0"/>
<line x1="55.00" y1="620.20" x2="60.60" y2="620.20" stroke="#3c3c3c" stroke-width="1.0"/>
<rect x="52.20" y="616.20" width="11.20" height="3.50" fill="#5e2170" stroke="#2e0b3a" stroke-width="0.5"/>
<line x1="52.20" y1="618.00" x2="63.40" y2="618.00" stroke="#2e0b3a" stroke-width="1.2"/>
<line x1="76.50" y1="614.60" x2="76.50" y2="620.80" stroke="#3c3c3c" stroke-width="1.0"/>
<line x1="73.70" y1="614.60" x2="79.30" y2="614.60" stroke="#3c3c3c" stroke-width="1.0"/>
<line x1="73.70" y1="620.80" x2="79.30" y2="620.80" stroke="#3c3c3c" stroke-width="1.0"/>
<rect x="70.90" y="618.60" width="11.20" height="0.80" fill="#2a2a2a" stroke="#1a1a1a" stroke-width="0.5"/>
<line x1="70.90" y1="618.80" x2="82.10" y2="618.80" stroke="#1a1a1a" stroke-width="1.2"/>
<line x1="95.50" y1="614.20" x2="95.50" y2="622.00" stroke="#3c3c3c" stroke-width="1.0"/>
<line x1="92.70" y1="614.20" x2="98.30" y2="614.20" stroke="#3c3c3c" stroke-width="1.0"/>
<line x1="92.70" y1="622.00" x2="98.30" y2="622.00" stroke="#3c3c3c" stroke-width="1.0"/>
<rect x="89.90" y="616.60" width="11.20" height="4.90" fill="#d80f30" stroke="#6a0616" stroke-width="0.5"/>
<line x1="89.90" y1="619.00" x2="101.10" y2="619.00" stroke="#6a0616" stroke-width="1.2"/>
<line x1="114.20" y1="621.60" x2="114.20" y2="623.60" stroke="#3c3c3c" stroke-width="1.0"/>
<line x1="111.40" y1="621.60" x2="117.00" y2="621.60" stroke="#3c3c3c" stroke-width="1.0"/>
<line x1="111.40" y1="623.60" x2="117.00" y2="623.60" stroke="#3c3c3c" stroke-width="1.0"/>
<rect x="108.60" y="622.60" width="11.20" height="0.80" fill="#1a3050" stroke="#101c30" stroke-width="0.5"/>
<line x1="108.60" y1="623.00" x2="119.80" y2="623.00" stroke="#101c30" stroke-width="1.2"/>
<line x1="57.00" y1="592.50" x2="115.00" y2="592.50" stroke="#2a2a2a" stroke-width="1.1"/>
<text x="83.89" y="592.18" font-size="8.0" stroke="#1e1e1e" stroke-width="0.55" text-anchor="middle">*</text>
<text x="88.11" y="592.18" font-size="8.0" stroke="#1e1e1e" stroke-width="0.55" text-anchor="middle">*</text>
<line x1="75.60" y1="602.50" x2="115.00" y2="602.50" stroke="#2a2a2a" stroke-width="1.1"/>
<text x="95.30" y="602.18" font-size="8.0" stroke="#1e1e1e" stroke-width="0.55" text-anchor="middle">*</text>
<line x1="93.00" y1="611.50" x2="115.00" y2="611.50" stroke="#2a2a2a" stroke-width="1.1"/>
<text x="104.00" y="611.18" font-size="8.0" stroke="#1e1e1e" stroke-width="0.55" text-anchor="middle">*</text>
<text x="0" y="0" font-size="9.4" text-anchor="middle" transform="translate(18.40,644.00) rotate(-90)" stroke="#1e1e1e" stroke-width="0.45" textLength="66.6" lengthAdjust="spacingAndGlyphs">% of Lin<tspan font-size="5" dy="-3">–</tspan><tspan dy="3"> KIT</tspan><tspan font-size="5" dy="-3">+</tspan><tspan dy="3"> CFU-E</tspan></text>
<text x="0" y="0" transform="translate(44.60,701.80) scale(1,0.98)" font-size="8.4" stroke="#1e1e1e" stroke-width="0.22" text-anchor="end" font-style="italic">Exosc3</text>
<text x="0" y="0" transform="translate(44.60,711.20) scale(1,0.98)" font-size="8.4" stroke="#1e1e1e" stroke-width="0.22" text-anchor="end">Cre</text>
<text x="0" y="0" transform="translate(59.80,701.80) scale(1,0.98)" font-size="8.4" stroke="#1e1e1e" stroke-width="0.22" text-anchor="middle">C/wt</text>
<text x="0" y="0" transform="translate(59.80,710.80) scale(1,0.98)" font-size="8.4" stroke="#1e1e1e" stroke-width="0.22" text-anchor="middle">–</text>
<text x="0" y="0" transform="translate(78.50,701.80) scale(1,0.98)" font-size="8.4" stroke="#1e1e1e" stroke-width="0.22" text-anchor="middle">C/wt</text>
<text x="0" y="0" transform="translate(78.50,711.60) scale(1,0.98)" font-size="8.4" stroke="#1e1e1e" stroke-width="0.22" text-anchor="middle">+</text>
<text x="0" y="0" transform="translate(97.50,701.80) scale(1,0.98)" font-size="8.4" stroke="#1e1e1e" stroke-width="0.22" text-anchor="middle">C/C</text>
<text x="0" y="0" transform="translate(97.50,710.80) scale(1,0.98)" font-size="8.4" stroke="#1e1e1e" stroke-width="0.22" text-anchor="middle">–</text>
<text x="0" y="0" transform="translate(116.00,701.80) scale(1,0.98)" font-size="8.4" stroke="#1e1e1e" stroke-width="0.22" text-anchor="middle">C/C</text>
<text x="0" y="0" transform="translate(116.00,711.60) scale(1,0.98)" font-size="8.4" stroke="#1e1e1e" stroke-width="0.22" text-anchor="middle">+</text>
<text x="214.00" y="580.20" font-size="9.4" stroke="#1e1e1e" stroke-width="0.06" text-anchor="middle" textLength="20.6" lengthAdjust="spacingAndGlyphs">Early</text>
<line x1="172.00" y1="601.40" x2="172.00" y2="687.00" stroke="#1e1e1e" stroke-width="1.2"/>
<line x1="168.80" y1="687.00" x2="172.00" y2="687.00" stroke="#1e1e1e" stroke-width="1.2"/>
<text x="0" y="0" transform="translate(167.20,689.48) scale(1,0.86)" font-size="8.0" stroke="#1e1e1e" stroke-width="0.22" text-anchor="end">0</text>
<line x1="168.80" y1="659.20" x2="172.00" y2="659.20" stroke="#1e1e1e" stroke-width="1.2"/>
<text x="0" y="0" transform="translate(167.20,661.68) scale(1,0.86)" font-size="8.0" stroke="#1e1e1e" stroke-width="0.22" text-anchor="end">5</text>
<line x1="168.80" y1="631.40" x2="172.00" y2="631.40" stroke="#1e1e1e" stroke-width="1.2"/>
<text x="0" y="0" transform="translate(167.20,633.88) scale(1,0.86)" font-size="8.0" stroke="#1e1e1e" stroke-width="0.22" text-anchor="end">10</text>
<line x1="168.80" y1="603.60" x2="172.00" y2="603.60" stroke="#1e1e1e" stroke-width="1.2"/>
<text x="0" y="0" transform="translate(167.20,606.08) scale(1,0.86)" font-size="8.0" stroke="#1e1e1e" stroke-width="0.22" text-anchor="end">15</text>
<line x1="170.20" y1="673.10" x2="172.00" y2="673.10" stroke="#1e1e1e" stroke-width="1.0"/>
<line x1="170.20" y1="645.30" x2="172.00" y2="645.30" stroke="#1e1e1e" stroke-width="1.0"/>
<line x1="170.20" y1="617.50" x2="172.00" y2="617.50" stroke="#1e1e1e" stroke-width="1.0"/>
<line x1="171.40" y1="687.00" x2="255.60" y2="687.00" stroke="#1e1e1e" stroke-width="1.3"/>
<line x1="185.50" y1="630.40" x2="185.50" y2="664.40" stroke="#3c3c3c" stroke-width="1.0"/>
<line x1="182.70" y1="630.40" x2="188.30" y2="630.40" stroke="#3c3c3c" stroke-width="1.0"/>
<line x1="182.70" y1="664.40" x2="188.30" y2="664.40" stroke="#3c3c3c" stroke-width="1.0"/>
<rect x="179.90" y="639.80" width="11.20" height="12.20" fill="#5e2170" stroke="#2e0b3a" stroke-width="0.5"/>
<line x1="179.90" y1="642.00" x2="191.10" y2="642.00" stroke="#2e0b3a" stroke-width="1.2"/>
<line x1="204.50" y1="638.00" x2="204.50" y2="662.60" stroke="#3c3c3c" stroke-width="1.0"/>
<line x1="201.70" y1="638.00" x2="207.30" y2="638.00" stroke="#3c3c3c" stroke-width="1.0"/>
<line x1="201.70" y1="662.60" x2="207.30" y2="662.60" stroke="#3c3c3c" stroke-width="1.0"/>
<rect x="198.90" y="640.00" width="11.20" height="8.00" fill="#3bb23e" stroke="#145a18" stroke-width="0.5"/>
<line x1="198.90" y1="644.00" x2="210.10" y2="644.00" stroke="#145a18" stroke-width="1.2"/>
<line x1="223.70" y1="632.40" x2="223.70" y2="662.40" stroke="#3c3c3c" stroke-width="1.0"/>
<line x1="220.90" y1="632.40" x2="226.50" y2="632.40" stroke="#3c3c3c" stroke-width="1.0"/>
<line x1="220.90" y1="662.40" x2="226.50" y2="662.40" stroke="#3c3c3c" stroke-width="1.0"/>
<rect x="218.10" y="636.40" width="11.20" height="15.60" fill="#d80f30" stroke="#6a0616" stroke-width="0.5"/>
<line x1="218.10" y1="641.40" x2="229.30" y2="641.40" stroke="#6a0616" stroke-width="1.2"/>
<line x1="242.70" y1="620.40" x2="242.70" y2="633.40" stroke="#3c3c3c" stroke-width="1.0"/>
<line x1="239.90" y1="620.40" x2="245.50" y2="620.40" stroke="#3c3c3c" stroke-width="1.0"/>
<line x1="239.90" y1="633.40" x2="245.50" y2="633.40" stroke="#3c3c3c" stroke-width="1.0"/>
<rect x="237.10" y="625.60" width="11.20" height="6.00" fill="#134f8f" stroke="#06264a" stroke-width="0.5"/>
<line x1="237.10" y1="629.00" x2="248.30" y2="629.00" stroke="#06264a" stroke-width="1.2"/>
<line x1="185.50" y1="607.50" x2="242.70" y2="607.50" stroke="#2a2a2a" stroke-width="1.1"/>
<text x="214.10" y="607.18" font-size="8.0" stroke="#1e1e1e" stroke-width="0.55" text-anchor="middle">*</text>
<line x1="203.60" y1="615.50" x2="242.70" y2="615.50" stroke="#2a2a2a" stroke-width="1.1"/>
<text x="223.15" y="615.18" font-size="8.0" stroke="#1e1e1e" stroke-width="0.55" text-anchor="middle">*</text>
<text x="0" y="0" font-size="9.4" text-anchor="middle" transform="translate(155.60,644.00) rotate(-90)" stroke="#1e1e1e" stroke-width="0.45" textLength="66.6" lengthAdjust="spacingAndGlyphs">% of Lin<tspan font-size="5" dy="-3">–</tspan><tspan dy="3"> KIT</tspan><tspan font-size="5" dy="-3">+</tspan><tspan dy="3"> CFU-E</tspan></text>
<text x="0" y="0" transform="translate(172.00,701.80) scale(1,0.98)" font-size="8.4" stroke="#1e1e1e" stroke-width="0.22" text-anchor="end" font-style="italic">Exosc3</text>
<text x="0" y="0" transform="translate(172.00,711.20) scale(1,0.98)" font-size="8.4" stroke="#1e1e1e" stroke-width="0.22" text-anchor="end">Cre</text>
<text x="0" y="0" transform="translate(186.00,701.80) scale(1,0.98)" font-size="8.4" stroke="#1e1e1e" stroke-width="0.22" text-anchor="middle">C/wt</text>
<text x="0" y="0" transform="translate(186.00,710.80) scale(1,0.98)" font-size="8.4" stroke="#1e1e1e" stroke-width="0.22" text-anchor="middle">–</text>
<text x="0" y="0" transform="translate(205.00,701.80) scale(1,0.98)" font-size="8.4" stroke="#1e1e1e" stroke-width="0.22" text-anchor="middle">C/wt</text>
<text x="0" y="0" transform="translate(205.00,711.60) scale(1,0.98)" font-size="8.4" stroke="#1e1e1e" stroke-width="0.22" text-anchor="middle">+</text>
<text x="0" y="0" transform="translate(224.20,701.80) scale(1,0.98)" font-size="8.4" stroke="#1e1e1e" stroke-width="0.22" text-anchor="middle">C/C</text>
<text x="0" y="0" transform="translate(224.20,710.80) scale(1,0.98)" font-size="8.4" stroke="#1e1e1e" stroke-width="0.22" text-anchor="middle">–</text>
<text x="0" y="0" transform="translate(243.20,701.80) scale(1,0.98)" font-size="8.4" stroke="#1e1e1e" stroke-width="0.22" text-anchor="middle">C/C</text>
<text x="0" y="0" transform="translate(243.20,711.60) scale(1,0.98)" font-size="8.4" stroke="#1e1e1e" stroke-width="0.22" text-anchor="middle">+</text>
<text x="343.50" y="580.20" font-size="9.4" stroke="#1e1e1e" stroke-width="0.06" text-anchor="middle" textLength="41.4" lengthAdjust="spacingAndGlyphs">Apoptotic</text>
<line x1="301.40" y1="600.80" x2="301.40" y2="687.00" stroke="#1e1e1e" stroke-width="1.2"/>
<line x1="298.20" y1="687.00" x2="301.40" y2="687.00" stroke="#1e1e1e" stroke-width="1.2"/>
<text x="0" y="0" transform="translate(296.00,689.48) scale(1,0.86)" font-size="8.0" stroke="#1e1e1e" stroke-width="0.22" text-anchor="end">0</text>
<line x1="298.20" y1="666.00" x2="301.40" y2="666.00" stroke="#1e1e1e" stroke-width="1.2"/>
<text x="0" y="0" transform="translate(296.00,668.48) scale(1,0.86)" font-size="8.0" stroke="#1e1e1e" stroke-width="0.22" text-anchor="end">2</text>
<line x1="298.20" y1="645.00" x2="301.40" y2="645.00" stroke="#1e1e1e" stroke-width="1.2"/>
<text x="0" y="0" transform="translate(296.00,647.48) scale(1,0.86)" font-size="8.0" stroke="#1e1e1e" stroke-width="0.22" text-anchor="end">4</text>
<line x1="298.20" y1="624.00" x2="301.40" y2="624.00" stroke="#1e1e1e" stroke-width="1.2"/>
<text x="0" y="0" transform="translate(296.00,626.48) scale(1,0.86)" font-size="8.0" stroke="#1e1e1e" stroke-width="0.22" text-anchor="end">6</text>
<line x1="298.20" y1="603.00" x2="301.40" y2="603.00" stroke="#1e1e1e" stroke-width="1.2"/>
<text x="0" y="0" transform="translate(296.00,605.48) scale(1,0.86)" font-size="8.0" stroke="#1e1e1e" stroke-width="0.22" text-anchor="end">8</text>
<line x1="299.60" y1="676.50" x2="301.40" y2="676.50" stroke="#1e1e1e" stroke-width="1.0"/>
<line x1="299.60" y1="655.50" x2="301.40" y2="655.50" stroke="#1e1e1e" stroke-width="1.0"/>
<line x1="299.60" y1="634.50" x2="301.40" y2="634.50" stroke="#1e1e1e" stroke-width="1.0"/>
<line x1="299.60" y1="613.50" x2="301.40" y2="613.50" stroke="#1e1e1e" stroke-width="1.0"/>
<line x1="300.80" y1="687.00" x2="385.00" y2="687.00" stroke="#1e1e1e" stroke-width="1.3"/>
<line x1="314.50" y1="635.50" x2="314.50" y2="674.40" stroke="#3c3c3c" stroke-width="1.0"/>
<line x1="311.70" y1="635.50" x2="317.30" y2="635.50" stroke="#3c3c3c" stroke-width="1.0"/>
<line x1="311.70" y1="674.40" x2="317.30" y2="674.40" stroke="#3c3c3c" stroke-width="1.0"/>
<rect x="308.90" y="643.60" width="11.20" height="18.40" fill="#5e2170" stroke="#2e0b3a" stroke-width="0.5"/>
<line x1="308.90" y1="653.00" x2="320.10" y2="653.00" stroke="#2e0b3a" stroke-width="1.2"/>
<line x1="334.00" y1="636.50" x2="334.00" y2="665.60" stroke="#3c3c3c" stroke-width="1.0"/>
<line x1="331.20" y1="636.50" x2="336.80" y2="636.50" stroke="#3c3c3c" stroke-width="1.0"/>
<line x1="331.20" y1="665.60" x2="336.80" y2="665.60" stroke="#3c3c3c" stroke-width="1.0"/>
<rect x="328.40" y="642.00" width="11.20" height="6.40" fill="#3bb23e" stroke="#145a18" stroke-width="0.5"/>
<line x1="328.40" y1="643.00" x2="339.60" y2="643.00" stroke="#145a18" stroke-width="1.2"/>
<line x1="353.00" y1="627.40" x2="353.00" y2="666.00" stroke="#3c3c3c" stroke-width="1.0"/>
<line x1="350.20" y1="627.40" x2="355.80" y2="627.40" stroke="#3c3c3c" stroke-width="1.0"/>
<line x1="350.20" y1="666.00" x2="355.80" y2="666.00" stroke="#3c3c3c" stroke-width="1.0"/>
<rect x="347.40" y="633.00" width="11.20" height="26.80" fill="#d80f30" stroke="#6a0616" stroke-width="0.5"/>
<line x1="347.40" y1="642.40" x2="358.60" y2="642.40" stroke="#6a0616" stroke-width="1.2"/>
<line x1="372.50" y1="620.60" x2="372.50" y2="630.40" stroke="#3c3c3c" stroke-width="1.0"/>
<line x1="369.70" y1="620.60" x2="375.30" y2="620.60" stroke="#3c3c3c" stroke-width="1.0"/>
<line x1="369.70" y1="630.40" x2="375.30" y2="630.40" stroke="#3c3c3c" stroke-width="1.0"/>
<rect x="366.90" y="620.60" width="11.20" height="6.80" fill="#134f8f" stroke="#06264a" stroke-width="0.5"/>
<line x1="366.90" y1="621.60" x2="378.10" y2="621.60" stroke="#06264a" stroke-width="1.2"/>
<line x1="313.00" y1="599.50" x2="372.50" y2="599.50" stroke="#2a2a2a" stroke-width="1.1"/>
<text x="340.64" y="599.18" font-size="8.0" stroke="#1e1e1e" stroke-width="0.55" text-anchor="middle">*</text>
<text x="344.86" y="599.18" font-size="8.0" stroke="#1e1e1e" stroke-width="0.55" text-anchor="middle">*</text>
<line x1="331.40" y1="607.50" x2="372.50" y2="607.50" stroke="#2a2a2a" stroke-width="1.1"/>
<text x="351.95" y="607.18" font-size="8.0" stroke="#1e1e1e" stroke-width="0.55" text-anchor="middle">*</text>
<line x1="350.00" y1="615.50" x2="372.50" y2="615.50" stroke="#2a2a2a" stroke-width="1.1"/>
<text x="361.25" y="615.18" font-size="8.0" stroke="#1e1e1e" stroke-width="0.55" text-anchor="middle">*</text>
<text x="0" y="0" font-size="9.4" text-anchor="middle" transform="translate(279.00,644.00) rotate(-90)" stroke="#1e1e1e" stroke-width="0.45" textLength="66.6" lengthAdjust="spacingAndGlyphs">% of Lin<tspan font-size="5" dy="-3">–</tspan><tspan dy="3"> KIT</tspan><tspan font-size="5" dy="-3">+</tspan><tspan dy="3"> CFU-E</tspan></text>
<text x="0" y="0" transform="translate(301.40,701.80) scale(1,0.98)" font-size="8.4" stroke="#1e1e1e" stroke-width="0.22" text-anchor="end" font-style="italic">Exosc3</text>
<text x="0" y="0" transform="translate(301.40,711.20) scale(1,0.98)" font-size="8.4" stroke="#1e1e1e" stroke-width="0.22" text-anchor="end">Cre</text>
<text x="0" y="0" transform="translate(317.00,701.80) scale(1,0.98)" font-size="8.4" stroke="#1e1e1e" stroke-width="0.22" text-anchor="middle">C/wt</text>
<text x="0" y="0" transform="translate(317.00,710.80) scale(1,0.98)" font-size="8.4" stroke="#1e1e1e" stroke-width="0.22" text-anchor="middle">–</text>
<text x="0" y="0" transform="translate(336.50,701.80) scale(1,0.98)" font-size="8.4" stroke="#1e1e1e" stroke-width="0.22" text-anchor="middle">C/wt</text>
<text x="0" y="0" transform="translate(336.50,711.60) scale(1,0.98)" font-size="8.4" stroke="#1e1e1e" stroke-width="0.22" text-anchor="middle">+</text>
<text x="0" y="0" transform="translate(355.50,701.80) scale(1,0.98)" font-size="8.4" stroke="#1e1e1e" stroke-width="0.22" text-anchor="middle">C/C</text>
<text x="0" y="0" transform="translate(355.50,710.80) scale(1,0.98)" font-size="8.4" stroke="#1e1e1e" stroke-width="0.22" text-anchor="middle">–</text>
<text x="0" y="0" transform="translate(375.00,701.80) scale(1,0.98)" font-size="8.4" stroke="#1e1e1e" stroke-width="0.22" text-anchor="middle">C/C</text>
<text x="0" y="0" transform="translate(375.00,711.60) scale(1,0.98)" font-size="8.4" stroke="#1e1e1e" stroke-width="0.22" text-anchor="middle">+</text>
<text x="478.30" y="580.20" font-size="9.4" stroke="#1e1e1e" stroke-width="0.06" text-anchor="middle" textLength="22.6" lengthAdjust="spacingAndGlyphs">Dead</text>
<line x1="436.20" y1="600.80" x2="436.20" y2="687.00" stroke="#1e1e1e" stroke-width="1.2"/>
<line x1="433.00" y1="687.00" x2="436.20" y2="687.00" stroke="#1e1e1e" stroke-width="1.2"/>
<text x="0" y="0" transform="translate(430.40,689.48) scale(1,0.86)" font-size="8.0" stroke="#1e1e1e" stroke-width="0.22" text-anchor="end">0</text>
<line x1="433.00" y1="666.00" x2="436.20" y2="666.00" stroke="#1e1e1e" stroke-width="1.2"/>
<text x="0" y="0" transform="translate(430.40,668.48) scale(1,0.86)" font-size="8.0" stroke="#1e1e1e" stroke-width="0.22" text-anchor="end">2</text>
<line x1="433.00" y1="645.00" x2="436.20" y2="645.00" stroke="#1e1e1e" stroke-width="1.2"/>
<text x="0" y="0" transform="translate(430.40,647.48) scale(1,0.86)" font-size="8.0" stroke="#1e1e1e" stroke-width="0.22" text-anchor="end">4</text>
<line x1="433.00" y1="624.00" x2="436.20" y2="624.00" stroke="#1e1e1e" stroke-width="1.2"/>
<text x="0" y="0" transform="translate(430.40,626.48) scale(1,0.86)" font-size="8.0" stroke="#1e1e1e" stroke-width="0.22" text-anchor="end">6</text>
<line x1="433.00" y1="603.00" x2="436.20" y2="603.00" stroke="#1e1e1e" stroke-width="1.2"/>
<text x="0" y="0" transform="translate(430.40,605.48) scale(1,0.86)" font-size="8.0" stroke="#1e1e1e" stroke-width="0.22" text-anchor="end">8</text>
<line x1="434.40" y1="676.50" x2="436.20" y2="676.50" stroke="#1e1e1e" stroke-width="1.0"/>
<line x1="434.40" y1="655.50" x2="436.20" y2="655.50" stroke="#1e1e1e" stroke-width="1.0"/>
<line x1="434.40" y1="634.50" x2="436.20" y2="634.50" stroke="#1e1e1e" stroke-width="1.0"/>
<line x1="434.40" y1="613.50" x2="436.20" y2="613.50" stroke="#1e1e1e" stroke-width="1.0"/>
<line x1="435.60" y1="687.00" x2="520.00" y2="687.00" stroke="#1e1e1e" stroke-width="1.3"/>
<line x1="449.30" y1="630.40" x2="449.30" y2="654.00" stroke="#3c3c3c" stroke-width="1.0"/>
<line x1="446.50" y1="630.40" x2="452.10" y2="630.40" stroke="#3c3c3c" stroke-width="1.0"/>
<line x1="446.50" y1="654.00" x2="452.10" y2="654.00" stroke="#3c3c3c" stroke-width="1.0"/>
<rect x="443.70" y="635.00" width="11.20" height="8.60" fill="#5e2170" stroke="#2e0b3a" stroke-width="0.5"/>
<line x1="443.70" y1="639.20" x2="454.90" y2="639.20" stroke="#2e0b3a" stroke-width="1.2"/>
<line x1="468.50" y1="625.40" x2="468.50" y2="646.20" stroke="#3c3c3c" stroke-width="1.0"/>
<line x1="465.70" y1="625.40" x2="471.30" y2="625.40" stroke="#3c3c3c" stroke-width="1.0"/>
<line x1="465.70" y1="646.20" x2="471.30" y2="646.20" stroke="#3c3c3c" stroke-width="1.0"/>
<rect x="462.90" y="633.20" width="11.20" height="8.10" fill="#3bb23e" stroke="#145a18" stroke-width="0.5"/>
<line x1="462.90" y1="635.80" x2="474.10" y2="635.80" stroke="#145a18" stroke-width="1.2"/>
<line x1="487.80" y1="617.00" x2="487.80" y2="648.20" stroke="#3c3c3c" stroke-width="1.0"/>
<line x1="485.00" y1="617.00" x2="490.60" y2="617.00" stroke="#3c3c3c" stroke-width="1.0"/>
<line x1="485.00" y1="648.20" x2="490.60" y2="648.20" stroke="#3c3c3c" stroke-width="1.0"/>
<rect x="482.20" y="621.00" width="11.20" height="24.60" fill="#d80f30" stroke="#6a0616" stroke-width="0.5"/>
<line x1="482.20" y1="635.80" x2="493.40" y2="635.80" stroke="#6a0616" stroke-width="1.2"/>
<line x1="507.30" y1="618.40" x2="507.30" y2="636.40" stroke="#3c3c3c" stroke-width="1.0"/>
<line x1="504.50" y1="618.40" x2="510.10" y2="618.40" stroke="#3c3c3c" stroke-width="1.0"/>
<line x1="504.50" y1="636.40" x2="510.10" y2="636.40" stroke="#3c3c3c" stroke-width="1.0"/>
<rect x="501.70" y="626.00" width="11.20" height="7.40" fill="#134f8f" stroke="#06264a" stroke-width="0.5"/>
<line x1="501.70" y1="629.00" x2="512.90" y2="629.00" stroke="#06264a" stroke-width="1.2"/>
<text x="0" y="0" font-size="9.4" text-anchor="middle" transform="translate(413.60,644.00) rotate(-90)" stroke="#1e1e1e" stroke-width="0.45" textLength="66.6" lengthAdjust="spacingAndGlyphs">% of Lin<tspan font-size="5" dy="-3">–</tspan><tspan dy="3"> KIT</tspan><tspan font-size="5" dy="-3">+</tspan><tspan dy="3"> CFU-E</tspan></text>
<text x="0" y="0" transform="translate(436.20,701.80) scale(1,0.98)" font-size="8.4" stroke="#1e1e1e" stroke-width="0.22" text-anchor="end" font-style="italic">Exosc3</text>
<text x="0" y="0" transform="translate(436.20,711.20) scale(1,0.98)" font-size="8.4" stroke="#1e1e1e" stroke-width="0.22" text-anchor="end">Cre</text>
<text x="0" y="0" transform="translate(449.60,701.80) scale(1,0.98)" font-size="8.4" stroke="#1e1e1e" stroke-width="0.22" text-anchor="middle">C/wt</text>
<text x="0" y="0" transform="translate(449.60,710.80) scale(1,0.98)" font-size="8.4" stroke="#1e1e1e" stroke-width="0.22" text-anchor="middle">–</text>
<text x="0" y="0" transform="translate(468.80,701.80) scale(1,0.98)" font-size="8.4" stroke="#1e1e1e" stroke-width="0.22" text-anchor="middle">C/wt</text>
<text x="0" y="0" transform="translate(468.80,711.60) scale(1,0.98)" font-size="8.4" stroke="#1e1e1e" stroke-width="0.22" text-anchor="middle">+</text>
<text x="0" y="0" transform="translate(488.10,701.80) scale(1,0.98)" font-size="8.4" stroke="#1e1e1e" stroke-width="0.22" text-anchor="middle">C/C</text>
<text x="0" y="0" transform="translate(488.10,710.80) scale(1,0.98)" font-size="8.4" stroke="#1e1e1e" stroke-width="0.22" text-anchor="middle">–</text>
<text x="0" y="0" transform="translate(507.60,701.80) scale(1,0.98)" font-size="8.4" stroke="#1e1e1e" stroke-width="0.22" text-anchor="middle">C/C</text>
<text x="0" y="0" transform="translate(507.60,711.60) scale(1,0.98)" font-size="8.4" stroke="#1e1e1e" stroke-width="0.22" text-anchor="middle">+</text>
</g>
</svg></body></html>
